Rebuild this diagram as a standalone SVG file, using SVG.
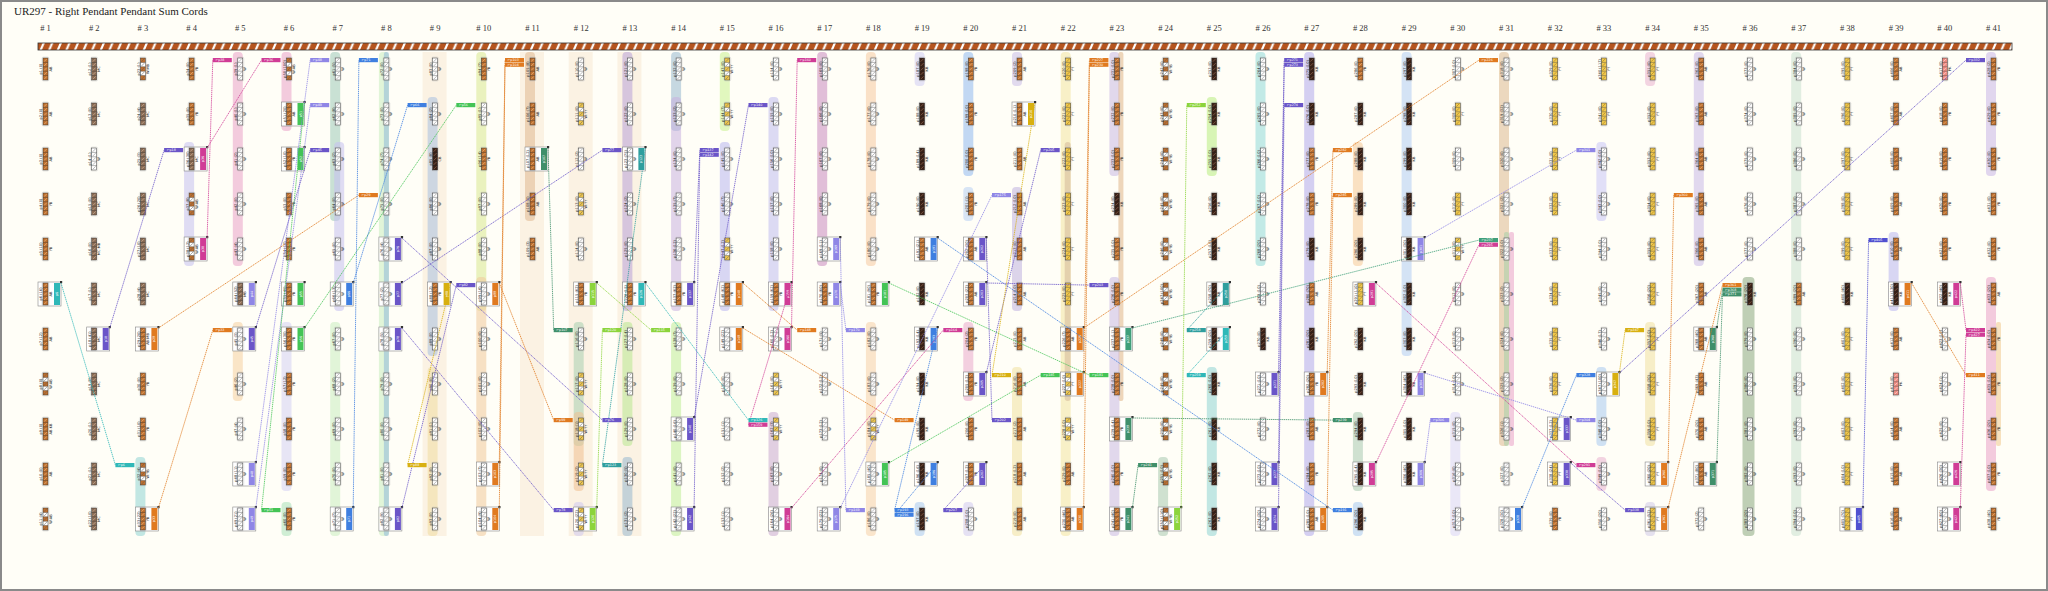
<svg xmlns="http://www.w3.org/2000/svg" width="2048" height="591" viewBox="0 0 2048 591">
<defs>
<style>
text{font-family:"DejaVu Sans","Liberation Sans",sans-serif;font-size:3.6px;text-anchor:middle;fill:#222}
.n text{transform:translate(0,11px) rotate(-90deg)}
.w{fill:#fff;font-size:3.3px}
.h{font-family:"Liberation Serif",serif;font-size:8.5px;fill:#333}
.ti{font-family:"Liberation Serif",serif;font-size:11px;text-anchor:start;fill:#222}
.t{font-size:3.3px;fill:#fff;text-anchor:start}
.c path{fill:none;stroke-width:.8;stroke-dasharray:1.4 .7}
.bd rect{opacity:.55}
.pb rect{fill:#f6e2c6;opacity:.4}
.r1{transform:translate(0,58px)}.r2{transform:translate(0,103px)}.r3{transform:translate(0,148px)}.r4{transform:translate(0,193px)}.r5{transform:translate(0,238px)}.r6{transform:translate(0,283px)}.r7{transform:translate(0,328px)}.r8{transform:translate(0,373px)}.r9{transform:translate(0,418px)}.r10{transform:translate(0,463px)}.r11{transform:translate(0,508px)}
</style>
<pattern id="rp" width="8.6" height="7" patternUnits="userSpaceOnUse" x="38" y="43"><rect width="8.6" height="7" fill="#b5541e"/><path d="M1.5 7 4.5 0H6.8L3.8 7Z" fill="#fff"/></pattern>
<path id="sp" fill="none" d="M0 4.4h5M0 8.8h5M0 13.2h5M0 17.6h5"/>
<path id="sl" fill="none" d="M1 3.7 4 .7M1 8.1 4 5.1M1 12.5 4 9.5M1 16.9 4 13.9M1 21.3 4 18.3"/>
<path id="al" d="M0 0h5v4.4H0zM0 8.8h5v4.4H0zM0 17.6h5V22H0z"/>
<rect id="fr" x="-1" y="-1" width="7" height="24" rx="1.5" fill="none" stroke="#c8c8c8" stroke-width=".4"/>
<rect id="ol" width="5" height="22" fill="none" stroke="#333" stroke-width=".5"/>
<g id="B"><use href="#fr"/><rect width="5" height="22" fill="#c0702e"/><use href="#sl" stroke="#f2cfa0" stroke-width=".5"/><use href="#sp" stroke="#333" stroke-width=".4"/><use href="#ol"/></g>
<g id="K"><use href="#fr"/><rect width="5" height="22" fill="#3b2116"/><use href="#sl" stroke="#a4826c" stroke-width=".5"/><use href="#sp" stroke="#222" stroke-width=".4"/><use href="#ol"/></g>
<g id="M"><use href="#fr"/><rect width="5" height="22" fill="#8c6c54"/><use href="#sl" stroke="#e0ccb8" stroke-width=".5"/><use href="#sp" stroke="#333" stroke-width=".4"/><use href="#ol"/></g>
<g id="W"><use href="#fr"/><rect width="5" height="22" fill="#fff"/><use href="#sl" stroke="#777" stroke-width=".5"/><use href="#sp" stroke="#444" stroke-width=".4"/><use href="#ol"/></g>
<g id="Y"><use href="#fr"/><rect width="5" height="22" fill="#f2c94e"/><use href="#sl" stroke="#8a6a12" stroke-width=".5"/><use href="#sp" stroke="#444" stroke-width=".4"/><use href="#ol"/></g>
<g id="P"><use href="#fr"/><rect width="5" height="22" fill="#f08a80"/><use href="#sl" stroke="#fff" stroke-width=".5"/><use href="#sp" stroke="#444" stroke-width=".4"/><use href="#ol"/></g>
<g id="X"><use href="#fr"/><rect width="5" height="22" fill="#fff"/><use href="#al" fill="#c0702e"/><use href="#sl" stroke="#555" stroke-width=".5"/><use href="#sp" stroke="#333" stroke-width=".4"/><use href="#ol"/></g>
<g id="Z"><use href="#fr"/><rect width="5" height="22" fill="#fff"/><use href="#al" fill="#f2c94e"/><use href="#sl" stroke="#555" stroke-width=".5"/><use href="#sp" stroke="#333" stroke-width=".4"/><use href="#ol"/></g>
<g id="S"><rect x="-5" y="-1" width="23" height="24" fill="#fff" stroke="#888" stroke-width=".6"/><rect x="17" y="-2" width="2.2" height="2.2" fill="#333"/></g>
</defs>
<rect x="1" y="1" width="2046" height="589" fill="#fffef7" stroke="#8a8a8a" stroke-width="2"/>
<text class="ti" x="14" y="15">UR297 - Right Pendant Pendant Sum Cords</text>
<g id="headers" class="h">
<text class="h" x="45.5" y="31"># 1</text><text class="h" x="94.2" y="31"># 2</text><text class="h" x="142.9" y="31"># 3</text><text class="h" x="191.6" y="31"># 4</text><text class="h" x="240.3" y="31"># 5</text><text class="h" x="289" y="31"># 6</text><text class="h" x="337.7" y="31"># 7</text><text class="h" x="386.4" y="31"># 8</text><text class="h" x="435.1" y="31"># 9</text><text class="h" x="483.8" y="31"># 10</text><text class="h" x="532.5" y="31"># 11</text><text class="h" x="581.2" y="31"># 12</text><text class="h" x="629.9" y="31"># 13</text><text class="h" x="678.6" y="31"># 14</text><text class="h" x="727.3" y="31"># 15</text><text class="h" x="776" y="31"># 16</text><text class="h" x="824.7" y="31"># 17</text><text class="h" x="873.4" y="31"># 18</text><text class="h" x="922.1" y="31"># 19</text><text class="h" x="970.8" y="31"># 20</text><text class="h" x="1019.5" y="31"># 21</text><text class="h" x="1068.2" y="31"># 22</text><text class="h" x="1116.9" y="31"># 23</text><text class="h" x="1165.6" y="31"># 24</text><text class="h" x="1214.3" y="31"># 25</text><text class="h" x="1263" y="31"># 26</text><text class="h" x="1311.7" y="31"># 27</text><text class="h" x="1360.4" y="31"># 28</text><text class="h" x="1409.1" y="31"># 29</text><text class="h" x="1457.8" y="31"># 30</text><text class="h" x="1506.5" y="31"># 31</text><text class="h" x="1555.2" y="31"># 32</text><text class="h" x="1603.9" y="31"># 33</text><text class="h" x="1652.6" y="31"># 34</text><text class="h" x="1701.3" y="31"># 35</text><text class="h" x="1750" y="31"># 36</text><text class="h" x="1798.7" y="31"># 37</text><text class="h" x="1847.4" y="31"># 38</text><text class="h" x="1896.1" y="31"># 39</text><text class="h" x="1944.8" y="31"># 40</text><text class="h" x="1993.5" y="31"># 41</text>
</g>
<g id="primary"><rect x="38" y="43" width="1974" height="7" fill="url(#rp)" stroke="#333" stroke-width=".8"/></g>
<g class="pb"><rect x="422.6" y="52" width="24" height="484"/><rect x="520" y="52" width="24" height="484"/><rect x="568.7" y="52" width="24" height="484"/><rect x="617.4" y="52" width="24" height="484"/></g>
<g class="bd">
<rect x="135.4" y="457" width="10" height="79" rx="4" fill="#8fd4d4"/>
<rect x="184.1" y="142" width="10" height="124" rx="4" fill="#c4bff0"/>
<rect x="232.8" y="52" width="10" height="214" rx="4" fill="#eaa0c8"/>
<rect x="232.8" y="322" width="10" height="79" rx="4" fill="#f5cfa0"/>
<rect x="281.5" y="52" width="10" height="79" rx="4" fill="#eaa0c8"/>
<rect x="281.5" y="322" width="10" height="169" rx="4" fill="#d4d0f4"/>
<rect x="281.5" y="502" width="10" height="34" rx="4" fill="#a8e0b8"/>
<rect x="330.2" y="52" width="10" height="169" rx="4" fill="#9cc8b8"/>
<rect x="334.2" y="142" width="10" height="169" rx="4" fill="#c4c0f0"/>
<rect x="330.2" y="322" width="10" height="214" rx="4" fill="#c8ecc0"/>
<rect x="378.9" y="52" width="10" height="484" rx="4" fill="#c8ecc0"/>
<rect x="383.9" y="52" width="5" height="484" rx="2" fill="#8fb8d8"/>
<rect x="427.6" y="97" width="10" height="259" rx="4" fill="#a8c0e0"/>
<rect x="427.6" y="367" width="10" height="169" rx="4" fill="#f0dca0"/>
<rect x="476.3" y="52" width="10" height="259" rx="4" fill="#d8e890"/>
<rect x="476.3" y="277" width="10" height="259" rx="4" fill="#f0c89a"/>
<rect x="525" y="52" width="10" height="169" rx="4" fill="#e0b890"/>
<rect x="573.7" y="322" width="10" height="124" rx="4" fill="#a8d0b0"/>
<rect x="573.7" y="412" width="10" height="79" rx="4" fill="#f0c090"/>
<rect x="573.7" y="502" width="10" height="34" rx="4" fill="#d0c8f0"/>
<rect x="622.4" y="52" width="10" height="259" rx="4" fill="#b8a0d8"/>
<rect x="622.4" y="322" width="10" height="124" rx="4" fill="#b8e890"/>
<rect x="622.4" y="457" width="10" height="79" rx="4" fill="#98b8d0"/>
<rect x="671.1" y="52" width="10" height="79" rx="4" fill="#98b8d0"/>
<rect x="671.1" y="97" width="10" height="214" rx="4" fill="#c8b0e0"/>
<rect x="671.1" y="322" width="10" height="214" rx="4" fill="#c0ec98"/>
<rect x="719.8" y="52" width="10" height="79" rx="4" fill="#c8f090"/>
<rect x="719.8" y="142" width="10" height="169" rx="4" fill="#b8b4f0"/>
<rect x="768.5" y="97" width="10" height="214" rx="4" fill="#c0bcf0"/>
<rect x="768.5" y="412" width="10" height="124" rx="4" fill="#c8a8d0"/>
<rect x="817.2" y="52" width="10" height="214" rx="4" fill="#c888c0"/>
<rect x="865.9" y="52" width="10" height="214" rx="4" fill="#f5c8a0"/>
<rect x="865.9" y="322" width="10" height="214" rx="4" fill="#f5d0a8"/>
<rect x="914.6" y="52" width="10" height="34" rx="4" fill="#d0ccf4"/>
<rect x="914.6" y="502" width="10" height="34" rx="4" fill="#a8c8f0"/>
<rect x="963.3" y="52" width="10" height="124" rx="4" fill="#90b8f0"/>
<rect x="963.3" y="187" width="10" height="34" rx="4" fill="#b8d0f4"/>
<rect x="963.3" y="322" width="10" height="79" rx="4" fill="#eaa8cc"/>
<rect x="963.3" y="502" width="10" height="34" rx="4" fill="#d0c8f0"/>
<rect x="1012" y="52" width="10" height="34" rx="4" fill="#c8bce8"/>
<rect x="1012" y="187" width="10" height="124" rx="4" fill="#c0b0e0"/>
<rect x="1012" y="367" width="10" height="169" rx="4" fill="#f0e0a0"/>
<rect x="1060.7" y="52" width="10" height="484" rx="4" fill="#f2e4a0"/>
<rect x="1064.7" y="142" width="6" height="259" rx="3" fill="#d4b898"/>
<rect x="1109.4" y="52" width="10" height="124" rx="4" fill="#c8b8e4"/>
<rect x="1118.4" y="52" width="5" height="349" rx="2" fill="#e0b488"/>
<rect x="1109.4" y="277" width="10" height="259" rx="4" fill="#c8b8e4"/>
<rect x="1158.1" y="457" width="10" height="79" rx="4" fill="#a8c8b0"/>
<rect x="1206.8" y="97" width="10" height="79" rx="4" fill="#b8ec80"/>
<rect x="1206.8" y="367" width="10" height="169" rx="4" fill="#90d4d4"/>
<rect x="1255.5" y="52" width="10" height="214" rx="4" fill="#90d8d8"/>
<rect x="1304.2" y="52" width="10" height="484" rx="4" fill="#b0a8ec"/>
<rect x="1352.9" y="142" width="10" height="124" rx="4" fill="#f5c898"/>
<rect x="1352.9" y="412" width="10" height="79" rx="4" fill="#a8c8b0"/>
<rect x="1352.9" y="502" width="10" height="34" rx="4" fill="#a8c8f0"/>
<rect x="1401.6" y="52" width="10" height="304" rx="4" fill="#b0ccf4"/>
<rect x="1450.3" y="412" width="10" height="124" rx="4" fill="#d8d4f8"/>
<rect x="1499" y="52" width="10" height="394" rx="4" fill="#dcb890"/>
<rect x="1504" y="232" width="5" height="214" rx="2" fill="#a8d0a8"/>
<rect x="1509" y="232" width="5" height="214" rx="2" fill="#eaa0c8"/>
<rect x="1596.4" y="142" width="10" height="79" rx="4" fill="#c8c4f8"/>
<rect x="1596.4" y="367" width="10" height="79" rx="4" fill="#a8c8f0"/>
<rect x="1596.4" y="457" width="10" height="34" rx="4" fill="#eab0d0"/>
<rect x="1645.1" y="52" width="10" height="34" rx="4" fill="#eab0d0"/>
<rect x="1645.1" y="322" width="10" height="124" rx="4" fill="#f0e0a0"/>
<rect x="1645.1" y="502" width="10" height="34" rx="4" fill="#d0c8e8"/>
<rect x="1693.8" y="52" width="10" height="214" rx="4" fill="#c8b8e8"/>
<rect x="1742.5" y="277" width="12" height="259" rx="4" fill="#8aa880"/>
<rect x="1791.2" y="52" width="10" height="484" rx="4" fill="#c8e0d0"/>
<rect x="1888.6" y="232" width="10" height="79" rx="4" fill="#b8b4f0"/>
<rect x="1986" y="52" width="10" height="124" rx="4" fill="#c8b4e8"/>
<rect x="1986" y="277" width="10" height="214" rx="4" fill="#eaa0c8"/>
<rect x="1996" y="322" width="5" height="124" rx="2" fill="#f0c890"/>
</g>
<g id="k1" transform="translate(43)">
<g id="p1" class="n r1"><use href="#B"/><text y="-.6">p1 (0)<tspan x="0" dy="9.1">AB</tspan></text></g>
<g id="p2" class="n r2"><use href="#B"/><text y="-.6">p2 (0)<tspan x="0" dy="9.1">AB</tspan></text></g>
<g id="p3" class="n r3"><use href="#B"/><text y="-.6">p3 (0)<tspan x="0" dy="9.1">AB</tspan></text></g>
<g id="p4" class="n r4"><use href="#B"/><text y="-.6">p4 (0)<tspan x="0" dy="9.1">YB</tspan></text></g>
<g id="p5" class="n r5"><use href="#B"/><text y="-.6">p5 (10)<tspan x="0" dy="9.1">YB</tspan></text></g>
<g id="p6" class="n r6"><use href="#S"/><use href="#B"/><rect x="11" width="6" height="22" fill="#2fb8b8"/><text y="-.6">p6 (16)<tspan x="0" dy="9.1">AB</tspan><tspan x="0" dy="6.6" class="w">p6</tspan></text></g>
<g id="p7" class="n r7"><use href="#B"/><text y="-.6">p7 (12)<tspan x="0" dy="9.1">AB</tspan></text></g>
<g id="p8" class="n r8"><use href="#X"/><text y="-.6">p8 (0)<tspan x="0" dy="9.1">W:AB</tspan></text></g>
<g id="p9" class="n r9"><use href="#B"/><text y="-.6">p9 (0)<tspan x="0" dy="9.1">AB:KB</tspan></text></g>
<g id="p10" class="n r10"><use href="#B"/><text y="-.6">p10 (0)<tspan x="0" dy="9.1">AB</tspan></text></g>
<g id="p11" class="n r11"><use href="#X"/><text y="-.6">p11 (4)<tspan x="0" dy="9.1">W:AB</tspan></text></g>
</g>
<g id="k2" transform="translate(91.7)">
<g id="p12" class="n r1"><use href="#M"/><text y="-.6">p12 (1)<tspan x="0" dy="9.1">MC</tspan></text></g>
<g id="p13" class="n r2"><use href="#M"/><text y="-.6">p13 (0)<tspan x="0" dy="9.1">MC</tspan></text></g>
<g id="p14" class="n r3"><use href="#W"/><text y="-.6">p14 (1)<tspan x="0" dy="9.1">W</tspan></text></g>
<g id="p15" class="n r4"><use href="#M"/><text y="-.6">p15 (0)<tspan x="0" dy="9.1">MC</tspan></text></g>
<g id="p16" class="n r5"><use href="#M"/><text y="-.6">p16 (0)<tspan x="0" dy="9.1">MC:MB</tspan></text></g>
<g id="p17" class="n r6"><use href="#M"/><text y="-.6">p17 (1)<tspan x="0" dy="9.1">MC</tspan></text></g>
<g id="p18" class="n r7"><use href="#S"/><use href="#M"/><rect x="11" width="6" height="22" fill="#6a55c8"/><text y="-.6">p18 (41)<tspan x="0" dy="9.1">MC</tspan><tspan x="0" dy="6.6" class="w">p18</tspan></text></g>
<g id="p19" class="n r8"><use href="#M"/><text y="-.6">p19 (0)<tspan x="0" dy="9.1">MC</tspan></text></g>
<g id="p20" class="n r9"><use href="#M"/><text y="-.6">p20 (1)<tspan x="0" dy="9.1">MC</tspan></text></g>
<g id="p21" class="n r10"><use href="#M"/><text y="-.6">p21 (1)<tspan x="0" dy="9.1">MC</tspan></text></g>
<g id="p22" class="n r11"><use href="#M"/><text y="-.6">p22 (10)<tspan x="0" dy="9.1">MC</tspan></text></g>
</g>
<g id="k3" transform="translate(140.4)">
<g id="p23" class="n r1"><use href="#X"/><text y="-.6">p23 (1)<tspan x="0" dy="9.1">W:MB</tspan></text></g>
<g id="p24" class="n r2"><use href="#M"/><text y="-.6">p24 (4)<tspan x="0" dy="9.1">MC</tspan></text></g>
<g id="p25" class="n r3"><use href="#M"/><text y="-.6">p25 (3)<tspan x="0" dy="9.1">MC</tspan></text></g>
<g id="p26" class="n r4"><use href="#M"/><text y="-.6">p26 (20)<tspan x="0" dy="9.1">MC</tspan></text></g>
<g id="p27" class="n r5"><use href="#M"/><text y="-.6">p27 (10)<tspan x="0" dy="9.1">MC</tspan></text></g>
<g id="p28" class="n r6"><use href="#M"/><text y="-.6">p28 (4)<tspan x="0" dy="9.1">MC</tspan></text></g>
<g id="p29" class="n r7"><use href="#S"/><use href="#B"/><rect x="11" width="6" height="22" fill="#e07a20"/><text y="-.6">p29 (20)<tspan x="0" dy="9.1">AB:MB</tspan><tspan x="0" dy="6.6" class="w">p29</tspan></text></g>
<g id="p30" class="n r8"><use href="#B"/><text y="-.6">p30 (0)<tspan x="0" dy="9.1">YB</tspan></text></g>
<g id="p31" class="n r9"><use href="#B"/><text y="-.6">p31 (10)<tspan x="0" dy="9.1">YB</tspan></text></g>
<g id="p32" class="n r10"><use href="#X"/><text y="-.6">p32 (4)<tspan x="0" dy="9.1">W:YB</tspan></text></g>
<g id="p33" class="n r11"><use href="#S"/><use href="#B"/><rect x="11" width="6" height="22" fill="#e07a20"/><text y="-.6">p33 (22)<tspan x="0" dy="9.1">YB</tspan><tspan x="0" dy="6.6" class="w">p33</tspan></text></g>
</g>
<g id="k4" transform="translate(189.1)">
<g id="p34" class="n r1"><use href="#B"/><text y="-.6">p34 (0)<tspan x="0" dy="9.1">YB</tspan></text></g>
<g id="p35" class="n r2"><use href="#B"/><text y="-.6">p35 (0)<tspan x="0" dy="9.1">YB</tspan></text></g>
<g id="p36" class="n r3"><use href="#S"/><use href="#M"/><rect x="11" width="6" height="22" fill="#d03c96"/><text y="-.6">p36 (30)<tspan x="0" dy="9.1">MC</tspan><tspan x="0" dy="6.6" class="w">p36</tspan></text></g>
<g id="p37" class="n r4"><use href="#X"/><text y="-.6">p37 (8)<tspan x="0" dy="9.1">W:AB</tspan></text></g>
<g id="p38" class="n r5"><use href="#S"/><use href="#X"/><rect x="11" width="6" height="22" fill="#d03c96"/><text y="-.6">p38 (12)<tspan x="0" dy="9.1">W:AB</tspan><tspan x="0" dy="6.6" class="w">p38</tspan></text></g>
</g>
<g id="k5" transform="translate(237.8)">
<g id="p39" class="n r1"><use href="#W"/><text y="-.6">p39 (1)<tspan x="0" dy="9.1">W</tspan></text></g>
<g id="p40" class="n r2"><use href="#W"/><text y="-.6">p40 (1)<tspan x="0" dy="9.1">W</tspan></text></g>
<g id="p41" class="n r3"><use href="#W"/><text y="-.6">p41 (2)<tspan x="0" dy="9.1">W</tspan></text></g>
<g id="p42" class="n r4"><use href="#W"/><text y="-.6">p42 (0)<tspan x="0" dy="9.1">W</tspan></text></g>
<g id="p43" class="n r5"><use href="#W"/><text y="-.6">p43 (4)<tspan x="0" dy="9.1">W</tspan></text></g>
<g id="p44" class="n r6"><use href="#S"/><use href="#M"/><rect x="11" width="6" height="22" fill="#8f86e6"/><text y="-.6">p44 (52)<tspan x="0" dy="9.1">MB</tspan><tspan x="0" dy="6.6" class="w">p44</tspan></text></g>
<g id="p45" class="n r7"><use href="#S"/><use href="#W"/><rect x="11" width="6" height="22" fill="#6a55c8"/><text y="-.6">p45 (3)<tspan x="0" dy="9.1">W</tspan><tspan x="0" dy="6.6" class="w">p45</tspan></text></g>
<g id="p46" class="n r8"><use href="#W"/><text y="-.6">p46 (2)<tspan x="0" dy="9.1">W</tspan></text></g>
<g id="p47" class="n r9"><use href="#W"/><text y="-.6">p47 (4)<tspan x="0" dy="9.1">W</tspan></text></g>
<g id="p48" class="n r10"><use href="#S"/><use href="#W"/><rect x="11" width="6" height="22" fill="#8f86e6"/><text y="-.6">p48 (11)<tspan x="0" dy="9.1">W</tspan><tspan x="0" dy="6.6" class="w">p48</tspan></text></g>
<g id="p49" class="n r11"><use href="#S"/><use href="#W"/><rect x="11" width="6" height="22" fill="#8f86e6"/><text y="-.6">p49 (21)<tspan x="0" dy="9.1">W</tspan><tspan x="0" dy="6.6" class="w">p49</tspan></text></g>
</g>
<g id="k6" transform="translate(286.5)">
<g id="p50" class="n r1"><use href="#X"/><text y="-.6">p50 (100)<tspan x="0" dy="9.1">W:AB</tspan></text></g>
<g id="p51" class="n r2"><use href="#S"/><use href="#B"/><rect x="11" width="6" height="22" fill="#44c456"/><text y="-.6">p51 (20)<tspan x="0" dy="9.1">AB</tspan><tspan x="0" dy="6.6" class="w">p51</tspan></text></g>
<g id="p52" class="n r3"><use href="#S"/><use href="#B"/><rect x="11" width="6" height="22" fill="#44c456"/><text y="-.6">p52 (10)<tspan x="0" dy="9.1">YB</tspan><tspan x="0" dy="6.6" class="w">p52</tspan></text></g>
<g id="p53" class="n r4"><use href="#B"/><text y="-.6">p53 (0)<tspan x="0" dy="9.1">YB</tspan></text></g>
<g id="p54" class="n r5"><use href="#B"/><text y="-.6">p54 (10)<tspan x="0" dy="9.1">YB</tspan></text></g>
<g id="p55" class="n r6"><use href="#S"/><use href="#B"/><rect x="11" width="6" height="22" fill="#44c456"/><text y="-.6">p55 (45)<tspan x="0" dy="9.1">YB</tspan><tspan x="0" dy="6.6" class="w">p55</tspan></text></g>
<g id="p56" class="n r7"><use href="#S"/><use href="#B"/><rect x="11" width="6" height="22" fill="#44c456"/><text y="-.6">p56 (30)<tspan x="0" dy="9.1">YB</tspan><tspan x="0" dy="6.6" class="w">p56</tspan></text></g>
<g id="p57" class="n r8"><use href="#B"/><text y="-.6">p57 (12)<tspan x="0" dy="9.1">YB</tspan></text></g>
<g id="p58" class="n r9"><use href="#B"/><text y="-.6">p58 (0)<tspan x="0" dy="9.1">YB</tspan></text></g>
<g id="p59" class="n r10"><use href="#B"/><text y="-.6">p59 (0)<tspan x="0" dy="9.1">YB</tspan></text></g>
<g id="p60" class="n r11"><use href="#B"/><text y="-.6">p60 (0)<tspan x="0" dy="9.1">YB</tspan></text></g>
</g>
<g id="k7" transform="translate(335.2)">
<g id="p61" class="n r1"><use href="#W"/><text y="-.6">p61 (5)<tspan x="0" dy="9.1">W</tspan></text></g>
<g id="p62" class="n r2"><use href="#W"/><text y="-.6">p62 (8)<tspan x="0" dy="9.1">W</tspan></text></g>
<g id="p63" class="n r3"><use href="#W"/><text y="-.6">p63 (2)<tspan x="0" dy="9.1">W</tspan></text></g>
<g id="p64" class="n r4"><use href="#W"/><text y="-.6">p64 (0)<tspan x="0" dy="9.1">W</tspan></text></g>
<g id="p65" class="n r5"><use href="#W"/><text y="-.6">p65 (0)<tspan x="0" dy="9.1">W</tspan></text></g>
<g id="p66" class="n r6"><use href="#S"/><use href="#W"/><rect x="11" width="6" height="22" fill="#3f7fe0"/><text y="-.6">p66 (13)<tspan x="0" dy="9.1">W</tspan><tspan x="0" dy="6.6" class="w">p66</tspan></text></g>
<g id="p67" class="n r7"><use href="#W"/><text y="-.6">p67 (0)<tspan x="0" dy="9.1">W</tspan></text></g>
<g id="p68" class="n r8"><use href="#W"/><text y="-.6">p68 (2)<tspan x="0" dy="9.1">W</tspan></text></g>
<g id="p69" class="n r9"><use href="#W"/><text y="-.6">p69 (0)<tspan x="0" dy="9.1">W</tspan></text></g>
<g id="p70" class="n r10"><use href="#W"/><text y="-.6">p70 (0)<tspan x="0" dy="9.1">W</tspan></text></g>
<g id="p71" class="n r11"><use href="#S"/><use href="#W"/><rect x="11" width="6" height="22" fill="#3f7fe0"/><text y="-.6">p71 (7)<tspan x="0" dy="9.1">W</tspan><tspan x="0" dy="6.6" class="w">p71</tspan></text></g>
</g>
<g id="k8" transform="translate(383.9)">
<g id="p72" class="n r1"><use href="#W"/><text y="-.6">p72 (0)<tspan x="0" dy="9.1">W</tspan></text></g>
<g id="p73" class="n r2"><use href="#W"/><text y="-.6">p73 (0)<tspan x="0" dy="9.1">W</tspan></text></g>
<g id="p74" class="n r3"><use href="#W"/><text y="-.6">p74 (7)<tspan x="0" dy="9.1">W</tspan></text></g>
<g id="p75" class="n r4"><use href="#W"/><text y="-.6">p75 (0)<tspan x="0" dy="9.1">W</tspan></text></g>
<g id="p76" class="n r5"><use href="#S"/><use href="#W"/><rect x="11" width="6" height="22" fill="#6a55c8"/><text y="-.6">p76 (4)<tspan x="0" dy="9.1">W</tspan><tspan x="0" dy="6.6" class="w">p76</tspan></text></g>
<g id="p77" class="n r6"><use href="#S"/><use href="#W"/><rect x="11" width="6" height="22" fill="#6a55c8"/><text y="-.6">p77 (2)<tspan x="0" dy="9.1">W</tspan><tspan x="0" dy="6.6" class="w">p77</tspan></text></g>
<g id="p78" class="n r7"><use href="#S"/><use href="#W"/><rect x="11" width="6" height="22" fill="#6a55c8"/><text y="-.6">p78 (5)<tspan x="0" dy="9.1">W</tspan><tspan x="0" dy="6.6" class="w">p78</tspan></text></g>
<g id="p79" class="n r8"><use href="#W"/><text y="-.6">p79 (0)<tspan x="0" dy="9.1">W</tspan></text></g>
<g id="p80" class="n r9"><use href="#W"/><text y="-.6">p80 (0)<tspan x="0" dy="9.1">W</tspan></text></g>
<g id="p81" class="n r10"><use href="#W"/><text y="-.6">p81 (0)<tspan x="0" dy="9.1">W</tspan></text></g>
<g id="p82" class="n r11"><use href="#S"/><use href="#W"/><rect x="11" width="6" height="22" fill="#6a55c8"/><text y="-.6">p82 (9)<tspan x="0" dy="9.1">W</tspan><tspan x="0" dy="6.6" class="w">p82</tspan></text></g>
</g>
<g id="k9" transform="translate(432.6)">
<g id="p83" class="n r1"><use href="#W"/><text y="-.6">p83 (0)<tspan x="0" dy="9.1">W</tspan></text></g>
<g id="p84" class="n r2"><use href="#W"/><text y="-.6">p84 (2)<tspan x="0" dy="9.1">W</tspan></text></g>
<g id="p85" class="n r3"><use href="#K"/><text y="-.6">p85 (8)<tspan x="0" dy="9.1">CB</tspan></text></g>
<g id="p86" class="n r4"><use href="#W"/><text y="-.6">p86 (0)<tspan x="0" dy="9.1">W</tspan></text></g>
<g id="p87" class="n r5"><use href="#W"/><text y="-.6">p87 (0)<tspan x="0" dy="9.1">W</tspan></text></g>
<g id="p88" class="n r6"><use href="#S"/><use href="#B"/><rect x="11" width="6" height="22" fill="#d8b010"/><text y="-.6">p88 (12)<tspan x="0" dy="9.1">YB</tspan><tspan x="0" dy="6.6" class="w">p88</tspan></text></g>
<g id="p89" class="n r7"><use href="#W"/><text y="-.6">p89 (0)<tspan x="0" dy="9.1">W</tspan></text></g>
<g id="p90" class="n r8"><use href="#W"/><text y="-.6">p90 (0)<tspan x="0" dy="9.1">W</tspan></text></g>
<g id="p91" class="n r9"><use href="#W"/><text y="-.6">p91 (1)<tspan x="0" dy="9.1">W</tspan></text></g>
<g id="p92" class="n r10"><use href="#W"/><text y="-.6">p92 (0)<tspan x="0" dy="9.1">W</tspan></text></g>
<g id="p93" class="n r11"><use href="#W"/><text y="-.6">p93 (0)<tspan x="0" dy="9.1">W</tspan></text></g>
</g>
<g id="k10" transform="translate(481.3)">
<g id="p94" class="n r1"><use href="#B"/><text y="-.6">p94 (7)<tspan x="0" dy="9.1">YB</tspan></text></g>
<g id="p95" class="n r2"><use href="#W"/><text y="-.6">p95 (1)<tspan x="0" dy="9.1">W</tspan></text></g>
<g id="p96" class="n r3"><use href="#B"/><text y="-.6">p96 (14)<tspan x="0" dy="9.1">YB</tspan></text></g>
<g id="p97" class="n r4"><use href="#W"/><text y="-.6">p97 (0)<tspan x="0" dy="9.1">W</tspan></text></g>
<g id="p98" class="n r5"><use href="#W"/><text y="-.6">p98 (0)<tspan x="0" dy="9.1">W</tspan></text></g>
<g id="p99" class="n r6"><use href="#S"/><use href="#W"/><rect x="11" width="6" height="22" fill="#e07a20"/><text y="-.6">p99 (16)<tspan x="0" dy="9.1">W</tspan><tspan x="0" dy="6.6" class="w">p99</tspan></text></g>
<g id="p100" class="n r7"><use href="#W"/><text y="-.6">p100 (0)<tspan x="0" dy="9.1">W</tspan></text></g>
<g id="p101" class="n r8"><use href="#W"/><text y="-.6">p101 (0)<tspan x="0" dy="9.1">W</tspan></text></g>
<g id="p102" class="n r9"><use href="#W"/><text y="-.6">p102 (0)<tspan x="0" dy="9.1">W</tspan></text></g>
<g id="p103" class="n r10"><use href="#S"/><use href="#W"/><rect x="11" width="6" height="22" fill="#e07a20"/><text y="-.6">p103 (7)<tspan x="0" dy="9.1">W</tspan><tspan x="0" dy="6.6" class="w">p103</tspan></text></g>
<g id="p104" class="n r11"><use href="#S"/><use href="#W"/><rect x="11" width="6" height="22" fill="#e07a20"/><text y="-.6">p104 (9)<tspan x="0" dy="9.1">W</tspan><tspan x="0" dy="6.6" class="w">p104</tspan></text></g>
</g>
<g id="k11" transform="translate(530)">
<g id="p105" class="n r1"><use href="#B"/><text y="-.6">p105 (8)<tspan x="0" dy="9.1">AB</tspan></text></g>
<g id="p106" class="n r2"><use href="#B"/><text y="-.6">p106 (7)<tspan x="0" dy="9.1">AB</tspan></text></g>
<g id="p107" class="n r3"><use href="#S"/><use href="#B"/><rect x="11" width="6" height="22" fill="#3f8f6a"/><text y="-.6">p107 (12)<tspan x="0" dy="9.1">AB</tspan><tspan x="0" dy="6.6" class="w">p107</tspan></text></g>
<g id="p108" class="n r4"><use href="#B"/><text y="-.6">p108 (0)<tspan x="0" dy="9.1">AB</tspan></text></g>
<g id="p109" class="n r5"><use href="#B"/><text y="-.6">p109 (3)<tspan x="0" dy="9.1">AB</tspan></text></g>
</g>
<g id="k12" transform="translate(578.7)">
<g id="p110" class="n r1"><use href="#W"/><text y="-.6">p110 (0)<tspan x="0" dy="9.1">W</tspan></text></g>
<g id="p111" class="n r2"><use href="#Z"/><text y="-.6">p111 (0)<tspan x="0" dy="9.1">W:YY</tspan></text></g>
<g id="p112" class="n r3"><use href="#W"/><text y="-.6">p112 (2)<tspan x="0" dy="9.1">W</tspan></text></g>
<g id="p113" class="n r4"><use href="#Z"/><text y="-.6">p113 (0)<tspan x="0" dy="9.1">W:YY</tspan></text></g>
<g id="p114" class="n r5"><use href="#W"/><text y="-.6">p114 (0)<tspan x="0" dy="9.1">W</tspan></text></g>
<g id="p115" class="n r6"><use href="#S"/><use href="#B"/><rect x="11" width="6" height="22" fill="#8cd43c"/><text y="-.6">p115 (62)<tspan x="0" dy="9.1">YB</tspan><tspan x="0" dy="6.6" class="w">p115</tspan></text></g>
<g id="p116" class="n r7"><use href="#W"/><text y="-.6">p116 (0)<tspan x="0" dy="9.1">W</tspan></text></g>
<g id="p117" class="n r8"><use href="#Z"/><text y="-.6">p117 (0)<tspan x="0" dy="9.1">W:YY</tspan></text></g>
<g id="p118" class="n r9"><use href="#Z"/><text y="-.6">p118 (1)<tspan x="0" dy="9.1">W:YY</tspan></text></g>
<g id="p119" class="n r10"><use href="#Z"/><text y="-.6">p119 (2)<tspan x="0" dy="9.1">W:YY</tspan></text></g>
<g id="p120" class="n r11"><use href="#S"/><use href="#Z"/><rect x="11" width="6" height="22" fill="#8cd43c"/><text y="-.6">p120 (22)<tspan x="0" dy="9.1">W:YY</tspan><tspan x="0" dy="6.6" class="w">p120</tspan></text></g>
</g>
<g id="k13" transform="translate(627.4)">
<g id="p121" class="n r1"><use href="#W"/><text y="-.6">p121 (0)<tspan x="0" dy="9.1">W</tspan></text></g>
<g id="p122" class="n r2"><use href="#W"/><text y="-.6">p122 (0)<tspan x="0" dy="9.1">W</tspan></text></g>
<g id="p123" class="n r3"><use href="#S"/><use href="#W"/><rect x="11" width="6" height="22" fill="#2f9e9e"/><text y="-.6">p123 (75)<tspan x="0" dy="9.1">W</tspan><tspan x="0" dy="6.6" class="w">p123</tspan></text></g>
<g id="p124" class="n r4"><use href="#W"/><text y="-.6">p124 (2)<tspan x="0" dy="9.1">W</tspan></text></g>
<g id="p125" class="n r5"><use href="#W"/><text y="-.6">p125 (0)<tspan x="0" dy="9.1">W</tspan></text></g>
<g id="p126" class="n r6"><use href="#S"/><use href="#B"/><rect x="11" width="6" height="22" fill="#2fb8b8"/><text y="-.6">p126 (15)<tspan x="0" dy="9.1">YB</tspan><tspan x="0" dy="6.6" class="w">p126</tspan></text></g>
<g id="p127" class="n r7"><use href="#W"/><text y="-.6">p127 (14)<tspan x="0" dy="9.1">W</tspan></text></g>
<g id="p128" class="n r8"><use href="#W"/><text y="-.6">p128 (0)<tspan x="0" dy="9.1">W</tspan></text></g>
<g id="p129" class="n r9"><use href="#W"/><text y="-.6">p129 (0)<tspan x="0" dy="9.1">W</tspan></text></g>
<g id="p130" class="n r10"><use href="#W"/><text y="-.6">p130 (5)<tspan x="0" dy="9.1">W</tspan></text></g>
<g id="p131" class="n r11"><use href="#W"/><text y="-.6">p131 (2)<tspan x="0" dy="9.1">W</tspan></text></g>
</g>
<g id="k14" transform="translate(676.1)">
<g id="p132" class="n r1"><use href="#W"/><text y="-.6">p132 (0)<tspan x="0" dy="9.1">W</tspan></text></g>
<g id="p133" class="n r2"><use href="#W"/><text y="-.6">p133 (2)<tspan x="0" dy="9.1">W</tspan></text></g>
<g id="p134" class="n r3"><use href="#W"/><text y="-.6">p134 (0)<tspan x="0" dy="9.1">W</tspan></text></g>
<g id="p135" class="n r4"><use href="#W"/><text y="-.6">p135 (7)<tspan x="0" dy="9.1">W</tspan></text></g>
<g id="p136" class="n r5"><use href="#W"/><text y="-.6">p136 (12)<tspan x="0" dy="9.1">W</tspan></text></g>
<g id="p137" class="n r6"><use href="#S"/><use href="#B"/><rect x="11" width="6" height="22" fill="#6a55c8"/><text y="-.6">p137 (62)<tspan x="0" dy="9.1">YB</tspan><tspan x="0" dy="6.6" class="w">p137</tspan></text></g>
<g id="p138" class="n r7"><use href="#W"/><text y="-.6">p138 (7)<tspan x="0" dy="9.1">W</tspan></text></g>
<g id="p139" class="n r8"><use href="#W"/><text y="-.6">p139 (0)<tspan x="0" dy="9.1">W</tspan></text></g>
<g id="p140" class="n r9"><use href="#S"/><use href="#W"/><rect x="11" width="6" height="22" fill="#6a55c8"/><text y="-.6">p140 (16)<tspan x="0" dy="9.1">W</tspan><tspan x="0" dy="6.6" class="w">p140</tspan></text></g>
<g id="p141" class="n r10"><use href="#W"/><text y="-.6">p141 (0)<tspan x="0" dy="9.1">W</tspan></text></g>
<g id="p142" class="n r11"><use href="#S"/><use href="#W"/><rect x="11" width="6" height="22" fill="#6a55c8"/><text y="-.6">p142 (22)<tspan x="0" dy="9.1">W</tspan><tspan x="0" dy="6.6" class="w">p142</tspan></text></g>
</g>
<g id="k15" transform="translate(724.8)">
<g id="p143" class="n r1"><use href="#Z"/><text y="-.6">p143 (0)<tspan x="0" dy="9.1">W:YY</tspan></text></g>
<g id="p144" class="n r2"><use href="#Z"/><text y="-.6">p144 (7)<tspan x="0" dy="9.1">W:YY</tspan></text></g>
<g id="p145" class="n r3"><use href="#W"/><text y="-.6">p145 (0)<tspan x="0" dy="9.1">W</tspan></text></g>
<g id="p146" class="n r4"><use href="#W"/><text y="-.6">p146 (7)<tspan x="0" dy="9.1">W</tspan></text></g>
<g id="p147" class="n r5"><use href="#Z"/><text y="-.6">p147 (12)<tspan x="0" dy="9.1">W:YY</tspan></text></g>
<g id="p148" class="n r6"><use href="#S"/><use href="#B"/><rect x="11" width="6" height="22" fill="#e07a20"/><text y="-.6">p148 (62)<tspan x="0" dy="9.1">YB</tspan><tspan x="0" dy="6.6" class="w">p148</tspan></text></g>
<g id="p149" class="n r7"><use href="#S"/><use href="#W"/><rect x="11" width="6" height="22" fill="#e07a20"/><text y="-.6">p149 (22)<tspan x="0" dy="9.1">W</tspan><tspan x="0" dy="6.6" class="w">p149</tspan></text></g>
<g id="p150" class="n r8"><use href="#W"/><text y="-.6">p150 (0)<tspan x="0" dy="9.1">W</tspan></text></g>
<g id="p151" class="n r9"><use href="#W"/><text y="-.6">p151 (1)<tspan x="0" dy="9.1">W</tspan></text></g>
<g id="p152" class="n r10"><use href="#W"/><text y="-.6">p152 (2)<tspan x="0" dy="9.1">W</tspan></text></g>
<g id="p153" class="n r11"><use href="#W"/><text y="-.6">p153 (1)<tspan x="0" dy="9.1">W</tspan></text></g>
</g>
<g id="k16" transform="translate(773.5)">
<g id="p154" class="n r1"><use href="#W"/><text y="-.6">p154 (0)<tspan x="0" dy="9.1">W</tspan></text></g>
<g id="p155" class="n r2"><use href="#W"/><text y="-.6">p155 (0)<tspan x="0" dy="9.1">W</tspan></text></g>
<g id="p156" class="n r3"><use href="#W"/><text y="-.6">p156 (10)<tspan x="0" dy="9.1">W</tspan></text></g>
<g id="p157" class="n r4"><use href="#W"/><text y="-.6">p157 (0)<tspan x="0" dy="9.1">W</tspan></text></g>
<g id="p158" class="n r5"><use href="#W"/><text y="-.6">p158 (0)<tspan x="0" dy="9.1">W</tspan></text></g>
<g id="p159" class="n r6"><use href="#S"/><use href="#B"/><rect x="11" width="6" height="22" fill="#d03c96"/><text y="-.6">p159 (62)<tspan x="0" dy="9.1">YB</tspan><tspan x="0" dy="6.6" class="w">p159</tspan></text></g>
<g id="p160" class="n r7"><use href="#S"/><use href="#W"/><rect x="11" width="6" height="22" fill="#d03c96"/><text y="-.6">p160 (12)<tspan x="0" dy="9.1">W</tspan><tspan x="0" dy="6.6" class="w">p160</tspan></text></g>
<g id="p161" class="n r8"><use href="#Z"/><text y="-.6">p161 (0)<tspan x="0" dy="9.1">W:YY</tspan></text></g>
<g id="p162" class="n r9"><use href="#Z"/><text y="-.6">p162 (3)<tspan x="0" dy="9.1">W:YY</tspan></text></g>
<g id="p163" class="n r10"><use href="#W"/><text y="-.6">p163 (0)<tspan x="0" dy="9.1">W</tspan></text></g>
<g id="p164" class="n r11"><use href="#S"/><use href="#W"/><rect x="11" width="6" height="22" fill="#d03c96"/><text y="-.6">p164 (26)<tspan x="0" dy="9.1">W</tspan><tspan x="0" dy="6.6" class="w">p164</tspan></text></g>
</g>
<g id="k17" transform="translate(822.2)">
<g id="p165" class="n r1"><use href="#W"/><text y="-.6">p165 (0)<tspan x="0" dy="9.1">W</tspan></text></g>
<g id="p166" class="n r2"><use href="#W"/><text y="-.6">p166 (0)<tspan x="0" dy="9.1">W</tspan></text></g>
<g id="p167" class="n r3"><use href="#W"/><text y="-.6">p167 (0)<tspan x="0" dy="9.1">W</tspan></text></g>
<g id="p168" class="n r4"><use href="#W"/><text y="-.6">p168 (0)<tspan x="0" dy="9.1">W</tspan></text></g>
<g id="p169" class="n r5"><use href="#S"/><use href="#W"/><rect x="11" width="6" height="22" fill="#8f86e6"/><text y="-.6">p169 (11)<tspan x="0" dy="9.1">W</tspan><tspan x="0" dy="6.6" class="w">p169</tspan></text></g>
<g id="p170" class="n r6"><use href="#S"/><use href="#B"/><rect x="11" width="6" height="22" fill="#8f86e6"/><text y="-.6">p170 (60)<tspan x="0" dy="9.1">YB</tspan><tspan x="0" dy="6.6" class="w">p170</tspan></text></g>
<g id="p171" class="n r7"><use href="#W"/><text y="-.6">p171 (5)<tspan x="0" dy="9.1">W</tspan></text></g>
<g id="p172" class="n r8"><use href="#W"/><text y="-.6">p172 (12)<tspan x="0" dy="9.1">W</tspan></text></g>
<g id="p173" class="n r9"><use href="#W"/><text y="-.6">p173 (12)<tspan x="0" dy="9.1">W</tspan></text></g>
<g id="p174" class="n r10"><use href="#W"/><text y="-.6">p174 (0)<tspan x="0" dy="9.1">W</tspan></text></g>
<g id="p175" class="n r11"><use href="#S"/><use href="#W"/><rect x="11" width="6" height="22" fill="#8f86e6"/><text y="-.6">p175 (22)<tspan x="0" dy="9.1">W</tspan><tspan x="0" dy="6.6" class="w">p175</tspan></text></g>
</g>
<g id="k18" transform="translate(870.9)">
<g id="p176" class="n r1"><use href="#W"/><text y="-.6">p176 (0)<tspan x="0" dy="9.1">W</tspan></text></g>
<g id="p177" class="n r2"><use href="#W"/><text y="-.6">p177 (0)<tspan x="0" dy="9.1">W</tspan></text></g>
<g id="p178" class="n r3"><use href="#W"/><text y="-.6">p178 (0)<tspan x="0" dy="9.1">W</tspan></text></g>
<g id="p179" class="n r4"><use href="#W"/><text y="-.6">p179 (0)<tspan x="0" dy="9.1">W</tspan></text></g>
<g id="p180" class="n r5"><use href="#W"/><text y="-.6">p180 (0)<tspan x="0" dy="9.1">W</tspan></text></g>
<g id="p181" class="n r6"><use href="#S"/><use href="#B"/><rect x="11" width="6" height="22" fill="#44c456"/><text y="-.6">p181 (90)<tspan x="0" dy="9.1">YB</tspan><tspan x="0" dy="6.6" class="w">p181</tspan></text></g>
<g id="p182" class="n r7"><use href="#W"/><text y="-.6">p182 (0)<tspan x="0" dy="9.1">W</tspan></text></g>
<g id="p183" class="n r8"><use href="#W"/><text y="-.6">p183 (0)<tspan x="0" dy="9.1">W</tspan></text></g>
<g id="p184" class="n r9"><use href="#Z"/><text y="-.6">p184 (0)<tspan x="0" dy="9.1">W:YY</tspan></text></g>
<g id="p185" class="n r10"><use href="#S"/><use href="#W"/><rect x="11" width="6" height="22" fill="#44c456"/><text y="-.6">p185 (40)<tspan x="0" dy="9.1">W</tspan><tspan x="0" dy="6.6" class="w">p185</tspan></text></g>
<g id="p186" class="n r11"><use href="#W"/><text y="-.6">p186 (0)<tspan x="0" dy="9.1">W</tspan></text></g>
</g>
<g id="k19" transform="translate(919.6)">
<g id="p187" class="n r1"><use href="#K"/><text y="-.6">p187 (0)<tspan x="0" dy="9.1">KB</tspan></text></g>
<g id="p188" class="n r2"><use href="#K"/><text y="-.6">p188 (0)<tspan x="0" dy="9.1">KB</tspan></text></g>
<g id="p189" class="n r3"><use href="#K"/><text y="-.6">p189 (14)<tspan x="0" dy="9.1">KB</tspan></text></g>
<g id="p190" class="n r4"><use href="#K"/><text y="-.6">p190 (0)<tspan x="0" dy="9.1">KB</tspan></text></g>
<g id="p191" class="n r5"><use href="#S"/><use href="#B"/><rect x="11" width="6" height="22" fill="#3f7fe0"/><text y="-.6">p191 (21)<tspan x="0" dy="9.1">AB</tspan><tspan x="0" dy="6.6" class="w">p191</tspan></text></g>
<g id="p192" class="n r6"><use href="#K"/><text y="-.6">p192 (0)<tspan x="0" dy="9.1">KB</tspan></text></g>
<g id="p193" class="n r7"><use href="#S"/><use href="#K"/><rect x="11" width="6" height="22" fill="#3f7fe0"/><text y="-.6">p193 (14)<tspan x="0" dy="9.1">KB</tspan><tspan x="0" dy="6.6" class="w">p193</tspan></text></g>
<g id="p194" class="n r8"><use href="#K"/><text y="-.6">p194 (0)<tspan x="0" dy="9.1">KB</tspan></text></g>
<g id="p195" class="n r9"><use href="#K"/><text y="-.6">p195 (0)<tspan x="0" dy="9.1">KB</tspan></text></g>
<g id="p196" class="n r10"><use href="#S"/><use href="#K"/><rect x="11" width="6" height="22" fill="#3f7fe0"/><text y="-.6">p196 (16)<tspan x="0" dy="9.1">KB</tspan><tspan x="0" dy="6.6" class="w">p196</tspan></text></g>
<g id="p197" class="n r11"><use href="#K"/><text y="-.6">p197 (0)<tspan x="0" dy="9.1">KB</tspan></text></g>
</g>
<g id="k20" transform="translate(968.3)">
<g id="p198" class="n r1"><use href="#B"/><text y="-.6">p198 (0)<tspan x="0" dy="9.1">YB</tspan></text></g>
<g id="p199" class="n r2"><use href="#B"/><text y="-.6">p199 (10)<tspan x="0" dy="9.1">YB</tspan></text></g>
<g id="p200" class="n r3"><use href="#B"/><text y="-.6">p200 (10)<tspan x="0" dy="9.1">YB</tspan></text></g>
<g id="p201" class="n r4"><use href="#B"/><text y="-.6">p201 (1)<tspan x="0" dy="9.1">YB</tspan></text></g>
<g id="p202" class="n r5"><use href="#S"/><use href="#B"/><rect x="11" width="6" height="22" fill="#6a55c8"/><text y="-.6">p202 (30)<tspan x="0" dy="9.1">AB</tspan><tspan x="0" dy="6.6" class="w">p202</tspan></text></g>
<g id="p203" class="n r6"><use href="#S"/><use href="#B"/><rect x="11" width="6" height="22" fill="#6a55c8"/><text y="-.6">p203 (22)<tspan x="0" dy="9.1">AB</tspan><tspan x="0" dy="6.6" class="w">p203</tspan></text></g>
<g id="p204" class="n r7"><use href="#B"/><text y="-.6">p204 (2)<tspan x="0" dy="9.1">YB</tspan></text></g>
<g id="p205" class="n r8"><use href="#S"/><use href="#B"/><rect x="11" width="6" height="22" fill="#6a55c8"/><text y="-.6">p205 (12)<tspan x="0" dy="9.1">YB</tspan><tspan x="0" dy="6.6" class="w">p205</tspan></text></g>
<g id="p206" class="n r9"><use href="#B"/><text y="-.6">p206 (0)<tspan x="0" dy="9.1">YB</tspan></text></g>
<g id="p207" class="n r10"><use href="#S"/><use href="#B"/><rect x="11" width="6" height="22" fill="#6a55c8"/><text y="-.6">p207 (12)<tspan x="0" dy="9.1">YB</tspan><tspan x="0" dy="6.6" class="w">p207</tspan></text></g>
<g id="p208" class="n r11"><use href="#W"/><text y="-.6">p208 (10)<tspan x="0" dy="9.1">W</tspan></text></g>
</g>
<g id="k21" transform="translate(1017)">
<g id="p209" class="n r1"><use href="#B"/><text y="-.6">p209 (2)<tspan x="0" dy="9.1">AB</tspan></text></g>
<g id="p210" class="n r2"><use href="#S"/><use href="#B"/><rect x="11" width="6" height="22" fill="#d8b010"/><text y="-.6">p210 (11)<tspan x="0" dy="9.1">AB</tspan><tspan x="0" dy="6.6" class="w">p210</tspan></text></g>
<g id="p211" class="n r3"><use href="#B"/><text y="-.6">p211 (0)<tspan x="0" dy="9.1">AB</tspan></text></g>
<g id="p212" class="n r4"><use href="#B"/><text y="-.6">p212 (10)<tspan x="0" dy="9.1">AB</tspan></text></g>
<g id="p213" class="n r5"><use href="#B"/><text y="-.6">p213 (0)<tspan x="0" dy="9.1">AB</tspan></text></g>
<g id="p214" class="n r6"><use href="#B"/><text y="-.6">p214 (10)<tspan x="0" dy="9.1">AB</tspan></text></g>
<g id="p215" class="n r7"><use href="#B"/><text y="-.6">p215 (0)<tspan x="0" dy="9.1">AB</tspan></text></g>
<g id="p216" class="n r8"><use href="#B"/><text y="-.6">p216 (0)<tspan x="0" dy="9.1">AB</tspan></text></g>
<g id="p217" class="n r9"><use href="#B"/><text y="-.6">p217 (2)<tspan x="0" dy="9.1">AB</tspan></text></g>
<g id="p218" class="n r10"><use href="#B"/><text y="-.6">p218 (12)<tspan x="0" dy="9.1">AB</tspan></text></g>
<g id="p219" class="n r11"><use href="#B"/><text y="-.6">p219 (0)<tspan x="0" dy="9.1">AB</tspan></text></g>
</g>
<g id="k22" transform="translate(1065.7)">
<g id="p220" class="n r1"><use href="#Y"/><text y="-.6">p220 (0)<tspan x="0" dy="9.1">YY</tspan></text></g>
<g id="p221" class="n r2"><use href="#Y"/><text y="-.6">p221 (0)<tspan x="0" dy="9.1">YY</tspan></text></g>
<g id="p222" class="n r3"><use href="#Y"/><text y="-.6">p222 (0)<tspan x="0" dy="9.1">YY</tspan></text></g>
<g id="p223" class="n r4"><use href="#Y"/><text y="-.6">p223 (0)<tspan x="0" dy="9.1">YY</tspan></text></g>
<g id="p224" class="n r5"><use href="#Y"/><text y="-.6">p224 (0)<tspan x="0" dy="9.1">YY</tspan></text></g>
<g id="p225" class="n r6"><use href="#Y"/><text y="-.6">p225 (0)<tspan x="0" dy="9.1">YY</tspan></text></g>
<g id="p226" class="n r7"><use href="#S"/><use href="#B"/><rect x="11" width="6" height="22" fill="#e07a20"/><text y="-.6">p226 (7)<tspan x="0" dy="9.1">AB</tspan><tspan x="0" dy="6.6" class="w">p226</tspan></text></g>
<g id="p227" class="n r8"><use href="#S"/><use href="#Z"/><rect x="11" width="6" height="22" fill="#e07a20"/><text y="-.6">p227 (10)<tspan x="0" dy="9.1">YY</tspan><tspan x="0" dy="6.6" class="w">p227</tspan></text></g>
<g id="p228" class="n r9"><use href="#Z"/><text y="-.6">p228 (10)<tspan x="0" dy="9.1">W:YY</tspan></text></g>
<g id="p229" class="n r10"><use href="#B"/><text y="-.6">p229 (0)<tspan x="0" dy="9.1">AB</tspan></text></g>
<g id="p230" class="n r11"><use href="#S"/><use href="#B"/><rect x="11" width="6" height="22" fill="#e07a20"/><text y="-.6">p230 (46)<tspan x="0" dy="9.1">AB</tspan><tspan x="0" dy="6.6" class="w">p230</tspan></text></g>
</g>
<g id="k23" transform="translate(1114.4)">
<g id="p231" class="n r1"><use href="#B"/><text y="-.6">p231 (10)<tspan x="0" dy="9.1">YB</tspan></text></g>
<g id="p232" class="n r2"><use href="#B"/><text y="-.6">p232 (0)<tspan x="0" dy="9.1">YB</tspan></text></g>
<g id="p233" class="n r3"><use href="#B"/><text y="-.6">p233 (10)<tspan x="0" dy="9.1">YB</tspan></text></g>
<g id="p234" class="n r4"><use href="#K"/><text y="-.6">p234 (0)<tspan x="0" dy="9.1">KB</tspan></text></g>
<g id="p235" class="n r5"><use href="#B"/><text y="-.6">p235 (10)<tspan x="0" dy="9.1">YB</tspan></text></g>
<g id="p236" class="n r6"><use href="#B"/><text y="-.6">p236 (10)<tspan x="0" dy="9.1">YB</tspan></text></g>
<g id="p237" class="n r7"><use href="#S"/><use href="#B"/><rect x="11" width="6" height="22" fill="#3f9f7a"/><text y="-.6">p237 (11)<tspan x="0" dy="9.1">YB</tspan><tspan x="0" dy="6.6" class="w">p237</tspan></text></g>
<g id="p238" class="n r8"><use href="#B"/><text y="-.6">p238 (10)<tspan x="0" dy="9.1">YB</tspan></text></g>
<g id="p239" class="n r9"><use href="#S"/><use href="#B"/><rect x="11" width="6" height="22" fill="#3f8f6a"/><text y="-.6">p239 (14)<tspan x="0" dy="9.1">YB</tspan><tspan x="0" dy="6.6" class="w">p239</tspan></text></g>
<g id="p240" class="n r10"><use href="#B"/><text y="-.6">p240 (10)<tspan x="0" dy="9.1">YB</tspan></text></g>
<g id="p241" class="n r11"><use href="#S"/><use href="#B"/><rect x="11" width="6" height="22" fill="#3f8f6a"/><text y="-.6">p241 (40)<tspan x="0" dy="9.1">YB</tspan><tspan x="0" dy="6.6" class="w">p241</tspan></text></g>
</g>
<g id="k24" transform="translate(1163.1)">
<g id="p242" class="n r1"><use href="#X"/><text y="-.6">p242 (0)<tspan x="0" dy="9.1">W:YB</tspan></text></g>
<g id="p243" class="n r2"><use href="#X"/><text y="-.6">p243 (0)<tspan x="0" dy="9.1">W:YB</tspan></text></g>
<g id="p244" class="n r3"><use href="#X"/><text y="-.6">p244 (0)<tspan x="0" dy="9.1">W:YB</tspan></text></g>
<g id="p245" class="n r4"><use href="#X"/><text y="-.6">p245 (0)<tspan x="0" dy="9.1">W:YB</tspan></text></g>
<g id="p246" class="n r5"><use href="#X"/><text y="-.6">p246 (0)<tspan x="0" dy="9.1">W:YB</tspan></text></g>
<g id="p247" class="n r6"><use href="#X"/><text y="-.6">p247 (100)<tspan x="0" dy="9.1">W:YB</tspan></text></g>
<g id="p248" class="n r7"><use href="#X"/><text y="-.6">p248 (0)<tspan x="0" dy="9.1">W:YB</tspan></text></g>
<g id="p249" class="n r8"><use href="#X"/><text y="-.6">p249 (0)<tspan x="0" dy="9.1">W:YB</tspan></text></g>
<g id="p250" class="n r9"><use href="#X"/><text y="-.6">p250 (0)<tspan x="0" dy="9.1">W:YB</tspan></text></g>
<g id="p251" class="n r10"><use href="#X"/><text y="-.6">p251 (10)<tspan x="0" dy="9.1">W:YB</tspan></text></g>
<g id="p252" class="n r11"><use href="#S"/><use href="#X"/><rect x="11" width="6" height="22" fill="#8cd43c"/><text y="-.6">p252 (110)<tspan x="0" dy="9.1">W:YB</tspan><tspan x="0" dy="6.6" class="w">p252</tspan></text></g>
</g>
<g id="k25" transform="translate(1211.8)">
<g id="p253" class="n r1"><use href="#K"/><text y="-.6">p253 (0)<tspan x="0" dy="9.1">KB</tspan></text></g>
<g id="p254" class="n r2"><use href="#K"/><text y="-.6">p254 (10)<tspan x="0" dy="9.1">KB</tspan></text></g>
<g id="p255" class="n r3"><use href="#K"/><text y="-.6">p255 (10)<tspan x="0" dy="9.1">KB</tspan></text></g>
<g id="p256" class="n r4"><use href="#K"/><text y="-.6">p256 (0)<tspan x="0" dy="9.1">KB</tspan></text></g>
<g id="p257" class="n r5"><use href="#K"/><text y="-.6">p257 (10)<tspan x="0" dy="9.1">KB</tspan></text></g>
<g id="p258" class="n r6"><use href="#S"/><use href="#K"/><rect x="11" width="6" height="22" fill="#2f9e9e"/><text y="-.6">p258 (70)<tspan x="0" dy="9.1">KB</tspan><tspan x="0" dy="6.6" class="w">p258</tspan></text></g>
<g id="p259" class="n r7"><use href="#S"/><use href="#K"/><rect x="11" width="6" height="22" fill="#2fb8b8"/><text y="-.6">p259 (20)<tspan x="0" dy="9.1">KB</tspan><tspan x="0" dy="6.6" class="w">p259</tspan></text></g>
<g id="p260" class="n r8"><use href="#K"/><text y="-.6">p260 (10)<tspan x="0" dy="9.1">KB</tspan></text></g>
<g id="p261" class="n r9"><use href="#K"/><text y="-.6">p261 (0)<tspan x="0" dy="9.1">KB</tspan></text></g>
<g id="p262" class="n r10"><use href="#K"/><text y="-.6">p262 (0)<tspan x="0" dy="9.1">KB</tspan></text></g>
<g id="p263" class="n r11"><use href="#K"/><text y="-.6">p263 (0)<tspan x="0" dy="9.1">KB</tspan></text></g>
</g>
<g id="k26" transform="translate(1260.5)">
<g id="p264" class="n r1"><use href="#W"/><text y="-.6">p264 (0)<tspan x="0" dy="9.1">W</tspan></text></g>
<g id="p265" class="n r2"><use href="#W"/><text y="-.6">p265 (0)<tspan x="0" dy="9.1">W</tspan></text></g>
<g id="p266" class="n r3"><use href="#W"/><text y="-.6">p266 (10)<tspan x="0" dy="9.1">W</tspan></text></g>
<g id="p267" class="n r4"><use href="#W"/><text y="-.6">p267 (10)<tspan x="0" dy="9.1">W</tspan></text></g>
<g id="p268" class="n r5"><use href="#W"/><text y="-.6">p268 (20)<tspan x="0" dy="9.1">W</tspan></text></g>
<g id="p269" class="n r6"><use href="#W"/><text y="-.6">p269 (10)<tspan x="0" dy="9.1">W</tspan></text></g>
<g id="p270" class="n r7"><use href="#K"/><text y="-.6">p270 (0)<tspan x="0" dy="9.1">KB</tspan></text></g>
<g id="p271" class="n r8"><use href="#S"/><use href="#W"/><rect x="11" width="6" height="22" fill="#6a55c8"/><text y="-.6">p271 (10)<tspan x="0" dy="9.1">W</tspan><tspan x="0" dy="6.6" class="w">p271</tspan></text></g>
<g id="p272" class="n r9"><use href="#W"/><text y="-.6">p272 (0)<tspan x="0" dy="9.1">W</tspan></text></g>
<g id="p273" class="n r10"><use href="#S"/><use href="#W"/><rect x="11" width="6" height="22" fill="#6a55c8"/><text y="-.6">p273 (10)<tspan x="0" dy="9.1">W</tspan><tspan x="0" dy="6.6" class="w">p273</tspan></text></g>
<g id="p274" class="n r11"><use href="#S"/><use href="#W"/><rect x="11" width="6" height="22" fill="#6a55c8"/><text y="-.6">p274 (30)<tspan x="0" dy="9.1">W</tspan><tspan x="0" dy="6.6" class="w">p274</tspan></text></g>
</g>
<g id="k27" transform="translate(1309.2)">
<g id="p275" class="n r1"><use href="#K"/><text y="-.6">p275 (10)<tspan x="0" dy="9.1">KB</tspan></text></g>
<g id="p276" class="n r2"><use href="#K"/><text y="-.6">p276 (10)<tspan x="0" dy="9.1">KB</tspan></text></g>
<g id="p277" class="n r3"><use href="#B"/><text y="-.6">p277 (0)<tspan x="0" dy="9.1">YB</tspan></text></g>
<g id="p278" class="n r4"><use href="#B"/><text y="-.6">p278 (0)<tspan x="0" dy="9.1">YB</tspan></text></g>
<g id="p279" class="n r5"><use href="#K"/><text y="-.6">p279 (0)<tspan x="0" dy="9.1">KB</tspan></text></g>
<g id="p280" class="n r6"><use href="#B"/><text y="-.6">p280 (70)<tspan x="0" dy="9.1">AB</tspan></text></g>
<g id="p281" class="n r7"><use href="#K"/><text y="-.6">p281 (20)<tspan x="0" dy="9.1">KB</tspan></text></g>
<g id="p282" class="n r8"><use href="#S"/><use href="#B"/><rect x="11" width="6" height="22" fill="#e07a20"/><text y="-.6">p282 (20)<tspan x="0" dy="9.1">YB</tspan><tspan x="0" dy="6.6" class="w">p282</tspan></text></g>
<g id="p283" class="n r9"><use href="#B"/><text y="-.6">p283 (0)<tspan x="0" dy="9.1">AB</tspan></text></g>
<g id="p284" class="n r10"><use href="#B"/><text y="-.6">p284 (0)<tspan x="0" dy="9.1">YB</tspan></text></g>
<g id="p285" class="n r11"><use href="#S"/><use href="#B"/><rect x="11" width="6" height="22" fill="#e07a20"/><text y="-.6">p285 (10)<tspan x="0" dy="9.1">AB</tspan><tspan x="0" dy="6.6" class="w">p285</tspan></text></g>
</g>
<g id="k28" transform="translate(1357.9)">
<g id="p286" class="n r1"><use href="#B"/><text y="-.6">p286 (0)<tspan x="0" dy="9.1">YB</tspan></text></g>
<g id="p287" class="n r2"><use href="#K"/><text y="-.6">p287 (0)<tspan x="0" dy="9.1">KB</tspan></text></g>
<g id="p288" class="n r3"><use href="#K"/><text y="-.6">p288 (0)<tspan x="0" dy="9.1">KB</tspan></text></g>
<g id="p289" class="n r4"><use href="#K"/><text y="-.6">p289 (0)<tspan x="0" dy="9.1">KB</tspan></text></g>
<g id="p290" class="n r5"><use href="#K"/><text y="-.6">p290 (20)<tspan x="0" dy="9.1">KB</tspan></text></g>
<g id="p291" class="n r6"><use href="#S"/><use href="#Y"/><rect x="11" width="6" height="22" fill="#d03c96"/><text y="-.6">p291 (110)<tspan x="0" dy="9.1">YY</tspan><tspan x="0" dy="6.6" class="w">p291</tspan></text></g>
<g id="p292" class="n r7"><use href="#K"/><text y="-.6">p292 (20)<tspan x="0" dy="9.1">KB</tspan></text></g>
<g id="p293" class="n r8"><use href="#K"/><text y="-.6">p293 (10)<tspan x="0" dy="9.1">KB</tspan></text></g>
<g id="p294" class="n r9"><use href="#K"/><text y="-.6">p294 (0)<tspan x="0" dy="9.1">KB</tspan></text></g>
<g id="p295" class="n r10"><use href="#S"/><use href="#K"/><rect x="11" width="6" height="22" fill="#d03c96"/><text y="-.6">p295 (14)<tspan x="0" dy="9.1">KB</tspan><tspan x="0" dy="6.6" class="w">p295</tspan></text></g>
<g id="p296" class="n r11"><use href="#K"/><text y="-.6">p296 (20)<tspan x="0" dy="9.1">KB</tspan></text></g>
</g>
<g id="k29" transform="translate(1406.6)">
<g id="p297" class="n r1"><use href="#K"/><text y="-.6">p297 (0)<tspan x="0" dy="9.1">KB</tspan></text></g>
<g id="p298" class="n r2"><use href="#K"/><text y="-.6">p298 (0)<tspan x="0" dy="9.1">KB</tspan></text></g>
<g id="p299" class="n r3"><use href="#K"/><text y="-.6">p299 (0)<tspan x="0" dy="9.1">KB</tspan></text></g>
<g id="p300" class="n r4"><use href="#K"/><text y="-.6">p300 (0)<tspan x="0" dy="9.1">KB</tspan></text></g>
<g id="p301" class="n r5"><use href="#S"/><use href="#K"/><rect x="11" width="6" height="22" fill="#8f86e6"/><text y="-.6">p301 (30)<tspan x="0" dy="9.1">KB</tspan><tspan x="0" dy="6.6" class="w">p301</tspan></text></g>
<g id="p302" class="n r6"><use href="#K"/><text y="-.6">p302 (10)<tspan x="0" dy="9.1">KB</tspan></text></g>
<g id="p303" class="n r7"><use href="#K"/><text y="-.6">p303 (0)<tspan x="0" dy="9.1">KB</tspan></text></g>
<g id="p304" class="n r8"><use href="#S"/><use href="#K"/><rect x="11" width="6" height="22" fill="#8f86e6"/><text y="-.6">p304 (40)<tspan x="0" dy="9.1">KB</tspan><tspan x="0" dy="6.6" class="w">p304</tspan></text></g>
<g id="p305" class="n r9"><use href="#K"/><text y="-.6">p305 (10)<tspan x="0" dy="9.1">KB</tspan></text></g>
<g id="p306" class="n r10"><use href="#S"/><use href="#K"/><rect x="11" width="6" height="22" fill="#8f86e6"/><text y="-.6">p306 (40)<tspan x="0" dy="9.1">KB</tspan><tspan x="0" dy="6.6" class="w">p306</tspan></text></g>
</g>
<g id="k30" transform="translate(1455.3)">
<g id="p307" class="n r1"><use href="#W"/><text y="-.6">p307 (10)<tspan x="0" dy="9.1">W</tspan></text></g>
<g id="p308" class="n r2"><use href="#Y"/><text y="-.6">p308 (0)<tspan x="0" dy="9.1">YY</tspan></text></g>
<g id="p309" class="n r3"><use href="#W"/><text y="-.6">p309 (0)<tspan x="0" dy="9.1">W</tspan></text></g>
<g id="p310" class="n r4"><use href="#Y"/><text y="-.6">p310 (0)<tspan x="0" dy="9.1">YY</tspan></text></g>
<g id="p311" class="n r5"><use href="#Z"/><text y="-.6">p311 (0)<tspan x="0" dy="9.1">W:YY</tspan></text></g>
<g id="p312" class="n r6"><use href="#W"/><text y="-.6">p312 (0)<tspan x="0" dy="9.1">W</tspan></text></g>
<g id="p313" class="n r7"><use href="#W"/><text y="-.6">p313 (0)<tspan x="0" dy="9.1">W</tspan></text></g>
<g id="p314" class="n r8"><use href="#W"/><text y="-.6">p314 (10)<tspan x="0" dy="9.1">W</tspan></text></g>
<g id="p315" class="n r9"><use href="#W"/><text y="-.6">p315 (0)<tspan x="0" dy="9.1">W</tspan></text></g>
<g id="p316" class="n r10"><use href="#W"/><text y="-.6">p316 (0)<tspan x="0" dy="9.1">W</tspan></text></g>
<g id="p317" class="n r11"><use href="#W"/><text y="-.6">p317 (10)<tspan x="0" dy="9.1">W</tspan></text></g>
</g>
<g id="k31" transform="translate(1504)">
<g id="p318" class="n r1"><use href="#W"/><text y="-.6">p318 (0)<tspan x="0" dy="9.1">W</tspan></text></g>
<g id="p319" class="n r2"><use href="#W"/><text y="-.6">p319 (32)<tspan x="0" dy="9.1">W</tspan></text></g>
<g id="p320" class="n r3"><use href="#W"/><text y="-.6">p320 (0)<tspan x="0" dy="9.1">W</tspan></text></g>
<g id="p321" class="n r4"><use href="#W"/><text y="-.6">p321 (2)<tspan x="0" dy="9.1">W</tspan></text></g>
<g id="p322" class="n r5"><use href="#W"/><text y="-.6">p322 (10)<tspan x="0" dy="9.1">W</tspan></text></g>
<g id="p323" class="n r6"><use href="#W"/><text y="-.6">p323 (2)<tspan x="0" dy="9.1">W</tspan></text></g>
<g id="p324" class="n r7"><use href="#W"/><text y="-.6">p324 (0)<tspan x="0" dy="9.1">W</tspan></text></g>
<g id="p325" class="n r8"><use href="#W"/><text y="-.6">p325 (2)<tspan x="0" dy="9.1">W</tspan></text></g>
<g id="p326" class="n r9"><use href="#W"/><text y="-.6">p326 (1)<tspan x="0" dy="9.1">W</tspan></text></g>
<g id="p327" class="n r10"><use href="#W"/><text y="-.6">p327 (0)<tspan x="0" dy="9.1">W</tspan></text></g>
<g id="p328" class="n r11"><use href="#S"/><use href="#W"/><rect x="11" width="6" height="22" fill="#3f7fe0"/><text y="-.6">p328 (30)<tspan x="0" dy="9.1">W</tspan><tspan x="0" dy="6.6" class="w">p328</tspan></text></g>
</g>
<g id="k32" transform="translate(1552.7)">
<g id="p329" class="n r1"><use href="#Y"/><text y="-.6">p329 (0)<tspan x="0" dy="9.1">YY</tspan></text></g>
<g id="p330" class="n r2"><use href="#Y"/><text y="-.6">p330 (0)<tspan x="0" dy="9.1">YY</tspan></text></g>
<g id="p331" class="n r3"><use href="#Y"/><text y="-.6">p331 (0)<tspan x="0" dy="9.1">YY</tspan></text></g>
<g id="p332" class="n r4"><use href="#Y"/><text y="-.6">p332 (0)<tspan x="0" dy="9.1">YY</tspan></text></g>
<g id="p333" class="n r5"><use href="#Y"/><text y="-.6">p333 (0)<tspan x="0" dy="9.1">YY</tspan></text></g>
<g id="p334" class="n r6"><use href="#Y"/><text y="-.6">p334 (0)<tspan x="0" dy="9.1">YY</tspan></text></g>
<g id="p335" class="n r7"><use href="#Y"/><text y="-.6">p335 (0)<tspan x="0" dy="9.1">YY</tspan></text></g>
<g id="p336" class="n r8"><use href="#Y"/><text y="-.6">p336 (0)<tspan x="0" dy="9.1">YY</tspan></text></g>
<g id="p337" class="n r9"><use href="#S"/><use href="#Y"/><rect x="11" width="6" height="22" fill="#6a55c8"/><text y="-.6">p337 (12)<tspan x="0" dy="9.1">YY</tspan><tspan x="0" dy="6.6" class="w">p337</tspan></text></g>
<g id="p338" class="n r10"><use href="#S"/><use href="#Y"/><rect x="11" width="6" height="22" fill="#6a55c8"/><text y="-.6">p338 (24)<tspan x="0" dy="9.1">YY</tspan><tspan x="0" dy="6.6" class="w">p338</tspan></text></g>
<g id="p339" class="n r11"><use href="#B"/><text y="-.6">p339 (0)<tspan x="0" dy="9.1">YB</tspan></text></g>
</g>
<g id="k33" transform="translate(1601.4)">
<g id="p340" class="n r1"><use href="#Y"/><text y="-.6">p340 (117)<tspan x="0" dy="9.1">YY</tspan></text></g>
<g id="p341" class="n r2"><use href="#Y"/><text y="-.6">p341 (0)<tspan x="0" dy="9.1">YY</tspan></text></g>
<g id="p342" class="n r3"><use href="#W"/><text y="-.6">p342 (10)<tspan x="0" dy="9.1">W</tspan></text></g>
<g id="p343" class="n r4"><use href="#W"/><text y="-.6">p343 (10)<tspan x="0" dy="9.1">W</tspan></text></g>
<g id="p344" class="n r5"><use href="#W"/><text y="-.6">p344 (10)<tspan x="0" dy="9.1">W</tspan></text></g>
<g id="p345" class="n r6"><use href="#W"/><text y="-.6">p345 (0)<tspan x="0" dy="9.1">W</tspan></text></g>
<g id="p346" class="n r7"><use href="#W"/><text y="-.6">p346 (17)<tspan x="0" dy="9.1">W</tspan></text></g>
<g id="p347" class="n r8"><use href="#S"/><use href="#W"/><rect x="11" width="6" height="22" fill="#d8b010"/><text y="-.6">p347 (100)<tspan x="0" dy="9.1">W</tspan><tspan x="0" dy="6.6" class="w">p347</tspan></text></g>
<g id="p348" class="n r9"><use href="#W"/><text y="-.6">p348 (10)<tspan x="0" dy="9.1">W</tspan></text></g>
<g id="p349" class="n r10"><use href="#W"/><text y="-.6">p349 (10)<tspan x="0" dy="9.1">W</tspan></text></g>
<g id="p350" class="n r11"><use href="#W"/><text y="-.6">p350 (20)<tspan x="0" dy="9.1">W</tspan></text></g>
</g>
<g id="k34" transform="translate(1650.1)">
<g id="p351" class="n r1"><use href="#Y"/><text y="-.6">p351 (0)<tspan x="0" dy="9.1">YY</tspan></text></g>
<g id="p352" class="n r2"><use href="#Y"/><text y="-.6">p352 (0)<tspan x="0" dy="9.1">YY</tspan></text></g>
<g id="p353" class="n r3"><use href="#Y"/><text y="-.6">p353 (0)<tspan x="0" dy="9.1">YY</tspan></text></g>
<g id="p354" class="n r4"><use href="#Y"/><text y="-.6">p354 (0)<tspan x="0" dy="9.1">YY</tspan></text></g>
<g id="p355" class="n r5"><use href="#Y"/><text y="-.6">p355 (0)<tspan x="0" dy="9.1">YY</tspan></text></g>
<g id="p356" class="n r6"><use href="#Y"/><text y="-.6">p356 (20)<tspan x="0" dy="9.1">YY</tspan></text></g>
<g id="p357" class="n r7"><use href="#Y"/><text y="-.6">p357 (10)<tspan x="0" dy="9.1">YY</tspan></text></g>
<g id="p358" class="n r8"><use href="#Y"/><text y="-.6">p358 (30)<tspan x="0" dy="9.1">YY</tspan></text></g>
<g id="p359" class="n r9"><use href="#Y"/><text y="-.6">p359 (10)<tspan x="0" dy="9.1">YY</tspan></text></g>
<g id="p360" class="n r10"><use href="#S"/><use href="#Y"/><rect x="11" width="6" height="22" fill="#e07a20"/><text y="-.6">p360 (20)<tspan x="0" dy="9.1">YY</tspan><tspan x="0" dy="6.6" class="w">p360</tspan></text></g>
<g id="p361" class="n r11"><use href="#S"/><use href="#Y"/><rect x="11" width="6" height="22" fill="#e07a20"/><text y="-.6">p361 (52)<tspan x="0" dy="9.1">YY</tspan><tspan x="0" dy="6.6" class="w">p361</tspan></text></g>
</g>
<g id="k35" transform="translate(1698.8)">
<g id="p362" class="n r1"><use href="#B"/><text y="-.6">p362 (0)<tspan x="0" dy="9.1">AB</tspan></text></g>
<g id="p363" class="n r2"><use href="#B"/><text y="-.6">p363 (0)<tspan x="0" dy="9.1">AB</tspan></text></g>
<g id="p364" class="n r3"><use href="#B"/><text y="-.6">p364 (0)<tspan x="0" dy="9.1">AB</tspan></text></g>
<g id="p365" class="n r4"><use href="#B"/><text y="-.6">p365 (0)<tspan x="0" dy="9.1">AB</tspan></text></g>
<g id="p366" class="n r5"><use href="#B"/><text y="-.6">p366 (0)<tspan x="0" dy="9.1">AB</tspan></text></g>
<g id="p367" class="n r6"><use href="#B"/><text y="-.6">p367 (20)<tspan x="0" dy="9.1">AB</tspan></text></g>
<g id="p368" class="n r7"><use href="#S"/><use href="#B"/><rect x="11" width="6" height="22" fill="#3f8f6a"/><text y="-.6">p368 (40)<tspan x="0" dy="9.1">AB</tspan><tspan x="0" dy="6.6" class="w">p368</tspan></text></g>
<g id="p369" class="n r8"><use href="#B"/><text y="-.6">p369 (43)<tspan x="0" dy="9.1">AB</tspan></text></g>
<g id="p370" class="n r9"><use href="#B"/><text y="-.6">p370 (20)<tspan x="0" dy="9.1">AB</tspan></text></g>
<g id="p371" class="n r10"><use href="#S"/><use href="#B"/><rect x="11" width="6" height="22" fill="#3f8f6a"/><text y="-.6">p371 (80)<tspan x="0" dy="9.1">AB</tspan><tspan x="0" dy="6.6" class="w">p371</tspan></text></g>
<g id="p372" class="n r11"><use href="#W"/><text y="-.6">p372 (2)<tspan x="0" dy="9.1">W</tspan></text></g>
</g>
<g id="k36" transform="translate(1747.5)">
<g id="p373" class="n r1"><use href="#W"/><text y="-.6">p373 (0)<tspan x="0" dy="9.1">W</tspan></text></g>
<g id="p374" class="n r2"><use href="#W"/><text y="-.6">p374 (0)<tspan x="0" dy="9.1">W</tspan></text></g>
<g id="p375" class="n r3"><use href="#W"/><text y="-.6">p375 (0)<tspan x="0" dy="9.1">W</tspan></text></g>
<g id="p376" class="n r4"><use href="#W"/><text y="-.6">p376 (0)<tspan x="0" dy="9.1">W</tspan></text></g>
<g id="p377" class="n r5"><use href="#W"/><text y="-.6">p377 (0)<tspan x="0" dy="9.1">W</tspan></text></g>
<g id="p378" class="n r6"><use href="#K"/><text y="-.6">p378 (20)<tspan x="0" dy="9.1">KB</tspan></text></g>
<g id="p379" class="n r7"><use href="#W"/><text y="-.6">p379 (0)<tspan x="0" dy="9.1">W</tspan></text></g>
<g id="p380" class="n r8"><use href="#W"/><text y="-.6">p380 (0)<tspan x="0" dy="9.1">W</tspan></text></g>
<g id="p381" class="n r9"><use href="#W"/><text y="-.6">p381 (0)<tspan x="0" dy="9.1">W</tspan></text></g>
<g id="p382" class="n r10"><use href="#W"/><text y="-.6">p382 (0)<tspan x="0" dy="9.1">W</tspan></text></g>
<g id="p383" class="n r11"><use href="#W"/><text y="-.6">p383 (20)<tspan x="0" dy="9.1">W</tspan></text></g>
</g>
<g id="k37" transform="translate(1796.2)">
<g id="p384" class="n r1"><use href="#W"/><text y="-.6">p384 (0)<tspan x="0" dy="9.1">W</tspan></text></g>
<g id="p385" class="n r2"><use href="#W"/><text y="-.6">p385 (0)<tspan x="0" dy="9.1">W</tspan></text></g>
<g id="p386" class="n r3"><use href="#W"/><text y="-.6">p386 (0)<tspan x="0" dy="9.1">W</tspan></text></g>
<g id="p387" class="n r4"><use href="#W"/><text y="-.6">p387 (0)<tspan x="0" dy="9.1">W</tspan></text></g>
<g id="p388" class="n r5"><use href="#W"/><text y="-.6">p388 (0)<tspan x="0" dy="9.1">W</tspan></text></g>
<g id="p389" class="n r6"><use href="#B"/><text y="-.6">p389 (20)<tspan x="0" dy="9.1">AB</tspan></text></g>
<g id="p390" class="n r7"><use href="#W"/><text y="-.6">p390 (0)<tspan x="0" dy="9.1">W</tspan></text></g>
<g id="p391" class="n r8"><use href="#W"/><text y="-.6">p391 (0)<tspan x="0" dy="9.1">W</tspan></text></g>
<g id="p392" class="n r9"><use href="#W"/><text y="-.6">p392 (0)<tspan x="0" dy="9.1">W</tspan></text></g>
<g id="p393" class="n r10"><use href="#W"/><text y="-.6">p393 (0)<tspan x="0" dy="9.1">W</tspan></text></g>
<g id="p394" class="n r11"><use href="#W"/><text y="-.6">p394 (10)<tspan x="0" dy="9.1">W</tspan></text></g>
</g>
<g id="k38" transform="translate(1844.9)">
<g id="p395" class="n r1"><use href="#Y"/><text y="-.6">p395 (0)<tspan x="0" dy="9.1">YY</tspan></text></g>
<g id="p396" class="n r2"><use href="#Y"/><text y="-.6">p396 (0)<tspan x="0" dy="9.1">YY</tspan></text></g>
<g id="p397" class="n r3"><use href="#Y"/><text y="-.6">p397 (0)<tspan x="0" dy="9.1">YY</tspan></text></g>
<g id="p398" class="n r4"><use href="#Y"/><text y="-.6">p398 (0)<tspan x="0" dy="9.1">YY</tspan></text></g>
<g id="p399" class="n r5"><use href="#Y"/><text y="-.6">p399 (0)<tspan x="0" dy="9.1">YY</tspan></text></g>
<g id="p400" class="n r6"><use href="#K"/><text y="-.6">p400 (40)<tspan x="0" dy="9.1">KB</tspan></text></g>
<g id="p401" class="n r7"><use href="#Y"/><text y="-.6">p401 (0)<tspan x="0" dy="9.1">YY</tspan></text></g>
<g id="p402" class="n r8"><use href="#Y"/><text y="-.6">p402 (0)<tspan x="0" dy="9.1">YY</tspan></text></g>
<g id="p403" class="n r9"><use href="#Y"/><text y="-.6">p403 (0)<tspan x="0" dy="9.1">YY</tspan></text></g>
<g id="p404" class="n r10"><use href="#Y"/><text y="-.6">p404 (10)<tspan x="0" dy="9.1">YY</tspan></text></g>
<g id="p405" class="n r11"><use href="#S"/><use href="#Y"/><rect x="11" width="6" height="22" fill="#5050d0"/><text y="-.6">p405 (70)<tspan x="0" dy="9.1">YY</tspan><tspan x="0" dy="6.6" class="w">p405</tspan></text></g>
</g>
<g id="k39" transform="translate(1893.6)">
<g id="p406" class="n r1"><use href="#B"/><text y="-.6">p406 (0)<tspan x="0" dy="9.1">AB</tspan></text></g>
<g id="p407" class="n r2"><use href="#B"/><text y="-.6">p407 (0)<tspan x="0" dy="9.1">AB</tspan></text></g>
<g id="p408" class="n r3"><use href="#B"/><text y="-.6">p408 (0)<tspan x="0" dy="9.1">AB</tspan></text></g>
<g id="p409" class="n r4"><use href="#B"/><text y="-.6">p409 (0)<tspan x="0" dy="9.1">AB</tspan></text></g>
<g id="p410" class="n r5"><use href="#B"/><text y="-.6">p410 (0)<tspan x="0" dy="9.1">AB</tspan></text></g>
<g id="p411" class="n r6"><use href="#S"/><use href="#K"/><rect x="11" width="6" height="22" fill="#e07a20"/><text y="-.6">p411 (130)<tspan x="0" dy="9.1">KB</tspan><tspan x="0" dy="6.6" class="w">p411</tspan></text></g>
<g id="p412" class="n r7"><use href="#B"/><text y="-.6">p412 (0)<tspan x="0" dy="9.1">AB</tspan></text></g>
<g id="p413" class="n r8"><use href="#P"/><text y="-.6">p413 (0)<tspan x="0" dy="9.1">PK</tspan></text></g>
<g id="p414" class="n r9"><use href="#B"/><text y="-.6">p414 (0)<tspan x="0" dy="9.1">AB</tspan></text></g>
<g id="p415" class="n r10"><use href="#B"/><text y="-.6">p415 (0)<tspan x="0" dy="9.1">AB</tspan></text></g>
<g id="p416" class="n r11"><use href="#B"/><text y="-.6">p416 (0)<tspan x="0" dy="9.1">AB</tspan></text></g>
</g>
<g id="k40" transform="translate(1942.3)">
<g id="p417" class="n r1"><use href="#P"/><text y="-.6">p417 (0)<tspan x="0" dy="9.1">PK</tspan></text></g>
<g id="p418" class="n r2"><use href="#B"/><text y="-.6">p418 (0)<tspan x="0" dy="9.1">YB</tspan></text></g>
<g id="p419" class="n r3"><use href="#B"/><text y="-.6">p419 (0)<tspan x="0" dy="9.1">YB</tspan></text></g>
<g id="p420" class="n r4"><use href="#B"/><text y="-.6">p420 (0)<tspan x="0" dy="9.1">YB</tspan></text></g>
<g id="p421" class="n r5"><use href="#B"/><text y="-.6">p421 (0)<tspan x="0" dy="9.1">YB</tspan></text></g>
<g id="p422" class="n r6"><use href="#S"/><use href="#K"/><rect x="11" width="6" height="22" fill="#d03c96"/><text y="-.6">p422 (40)<tspan x="0" dy="9.1">KB</tspan><tspan x="0" dy="6.6" class="w">p422</tspan></text></g>
<g id="p423" class="n r7"><use href="#W"/><text y="-.6">p423 (10)<tspan x="0" dy="9.1">W</tspan></text></g>
<g id="p424" class="n r8"><use href="#W"/><text y="-.6">p424 (1)<tspan x="0" dy="9.1">W</tspan></text></g>
<g id="p425" class="n r9"><use href="#W"/><text y="-.6">p425 (0)<tspan x="0" dy="9.1">W</tspan></text></g>
<g id="p426" class="n r10"><use href="#S"/><use href="#W"/><rect x="11" width="6" height="22" fill="#d03c96"/><text y="-.6">p426 (30)<tspan x="0" dy="9.1">W</tspan><tspan x="0" dy="6.6" class="w">p426</tspan></text></g>
<g id="p427" class="n r11"><use href="#S"/><use href="#W"/><rect x="11" width="6" height="22" fill="#d03c96"/><text y="-.6">p427 (60)<tspan x="0" dy="9.1">W</tspan><tspan x="0" dy="6.6" class="w">p427</tspan></text></g>
</g>
<g id="k41" transform="translate(1991)">
<g id="p428" class="n r1"><use href="#B"/><text y="-.6">p428 (2)<tspan x="0" dy="9.1">YB</tspan></text></g>
<g id="p429" class="n r2"><use href="#B"/><text y="-.6">p429 (0)<tspan x="0" dy="9.1">YB</tspan></text></g>
<g id="p430" class="n r3"><use href="#B"/><text y="-.6">p430 (0)<tspan x="0" dy="9.1">YB</tspan></text></g>
<g id="p431" class="n r4"><use href="#B"/><text y="-.6">p431 (0)<tspan x="0" dy="9.1">YB</tspan></text></g>
<g id="p432" class="n r5"><use href="#B"/><text y="-.6">p432 (0)<tspan x="0" dy="9.1">YB</tspan></text></g>
<g id="p433" class="n r6"><use href="#B"/><text y="-.6">p433 (20)<tspan x="0" dy="9.1">AB</tspan></text></g>
<g id="p434" class="n r7"><use href="#B"/><text y="-.6">p434 (10)<tspan x="0" dy="9.1">YB</tspan></text></g>
<g id="p435" class="n r8"><use href="#B"/><text y="-.6">p435 (10)<tspan x="0" dy="9.1">YB</tspan></text></g>
<g id="p436" class="n r9"><use href="#B"/><text y="-.6">p436 (20)<tspan x="0" dy="9.1">YB</tspan></text></g>
<g id="p437" class="n r10"><use href="#B"/><text y="-.6">p437 (10)<tspan x="0" dy="9.1">YB</tspan></text></g>
<g id="p438" class="n r11"><use href="#B"/><text y="-.6">p438 (40)<tspan x="0" dy="9.1">YB</tspan></text></g>
</g>
<g id="connectors" class="c">
<path stroke="#2fb8b8" d="M61 283L115.4 465.1"/>
<path stroke="#6a55c8" d="M109.7 328L164.1 150.1"/>
<path stroke="#e07a20" d="M158.4 328L358.9 195.1"/>
<path stroke="#e07a20" d="M158.4 508L212.8 330.1"/>
<path stroke="#d03c96" d="M207.1 238L212.8 60.1"/>
<path stroke="#d03c96" d="M207.1 148L261.5 60.1"/>
<path stroke="#8f86e6" d="M255.8 463L310.2 60.1"/>
<path stroke="#8f86e6" d="M255.8 508L310.2 105.1"/>
<path stroke="#6a55c8" d="M255.8 328L310.2 150.1"/>
<path stroke="#44c456" d="M304.5 103L261.5 510.1"/>
<path stroke="#44c456" d="M304.5 328L456.3 105.1"/>
<path stroke="#3f7fe0" d="M353.2 508L358.9 60.1"/>
<path stroke="#3f7fe0" d="M353.2 283L407.6 105.1"/>
<path stroke="#6a55c8" d="M401.9 508L456.3 285.1"/>
<path stroke="#6a55c8" d="M401.9 328L553.7 510.1"/>
<path stroke="#6a55c8" d="M401.9 238L602.4 420.1"/>
<path stroke="#6a55c8" d="M401.9 283L602.4 150.1"/>
<path stroke="#d8b010" d="M450.6 283L407.6 465.1"/>
<path stroke="#e07a20" d="M499.3 463L505 60.1"/>
<path stroke="#e07a20" d="M499.3 508L505 64.7"/>
<path stroke="#e07a20" d="M499.3 283L553.7 420.1"/>
<path stroke="#3f8f6a" d="M548 148L553.7 330.1"/>
<path stroke="#8cd43c" d="M596.7 283L651.1 330.1"/>
<path stroke="#8cd43c" d="M596.7 508L602.4 330.1"/>
<path stroke="#2f9e9e" d="M645.4 148L602.4 465.1"/>
<path stroke="#2fb8b8" d="M645.4 283L748.5 420.1"/>
<path stroke="#6a55c8" d="M694.1 283L699.8 150.1"/>
<path stroke="#6a55c8" d="M694.1 508L699.8 154.7"/>
<path stroke="#6a55c8" d="M694.1 418L748.5 105.1"/>
<path stroke="#e07a20" d="M742.8 283L797.2 330.1"/>
<path stroke="#e07a20" d="M742.8 328L894.6 420.1"/>
<path stroke="#d03c96" d="M791.5 283L748.5 424.7"/>
<path stroke="#d03c96" d="M791.5 328L797.2 60.1"/>
<path stroke="#d03c96" d="M791.5 508L943.3 330.1"/>
<path stroke="#8f86e6" d="M840.2 283L845.9 330.1"/>
<path stroke="#8f86e6" d="M840.2 238L845.9 510.1"/>
<path stroke="#8f86e6" d="M840.2 508L992 195.1"/>
<path stroke="#44c456" d="M888.9 283L1089.4 375.1"/>
<path stroke="#44c456" d="M888.9 463L1040.7 375.1"/>
<path stroke="#3f7fe0" d="M937.6 238L1332.9 510.1"/>
<path stroke="#3f7fe0" d="M937.6 328L894.6 510.1"/>
<path stroke="#3f7fe0" d="M937.6 463L894.6 514.7"/>
<path stroke="#6a55c8" d="M986.3 238L992 420.1"/>
<path stroke="#6a55c8" d="M986.3 283L1089.4 285.1"/>
<path stroke="#6a55c8" d="M986.3 373L1040.7 150.1"/>
<path stroke="#6a55c8" d="M986.3 463L943.3 510.1"/>
<path stroke="#d8b010" d="M1035 103L992 375.1"/>
<path stroke="#e07a20" d="M1083.7 328L1479 60.1"/>
<path stroke="#e07a20" d="M1083.7 373L1089.4 60.1"/>
<path stroke="#e07a20" d="M1083.7 508L1089.4 64.7"/>
<path stroke="#3f9f7a" d="M1132.4 328L1479 240.1"/>
<path stroke="#3f8f6a" d="M1132.4 418L1332.9 420.1"/>
<path stroke="#3f8f6a" d="M1132.4 508L1138.1 465.1"/>
<path stroke="#8cd43c" d="M1181.1 508L1186.8 105.1"/>
<path stroke="#2f9e9e" d="M1229.8 283L1186.8 330.1"/>
<path stroke="#2fb8b8" d="M1229.8 328L1186.8 375.1"/>
<path stroke="#6a55c8" d="M1278.5 373L1284.2 60.1"/>
<path stroke="#6a55c8" d="M1278.5 463L1284.2 64.7"/>
<path stroke="#6a55c8" d="M1278.5 508L1284.2 105.1"/>
<path stroke="#e07a20" d="M1327.2 373L1332.9 150.1"/>
<path stroke="#e07a20" d="M1327.2 508L1332.9 195.1"/>
<path stroke="#d03c96" d="M1375.9 463L1479 244.7"/>
<path stroke="#d03c96" d="M1375.9 283L1576.4 465.1"/>
<path stroke="#8f86e6" d="M1424.6 238L1576.4 150.1"/>
<path stroke="#8f86e6" d="M1424.6 373L1576.4 420.1"/>
<path stroke="#8f86e6" d="M1424.6 463L1430.3 420.1"/>
<path stroke="#3f7fe0" d="M1522 508L1576.4 375.1"/>
<path stroke="#6a55c8" d="M1570.7 463L1625.1 510.1"/>
<path stroke="#d8b010" d="M1619.4 373L1625.1 330.1"/>
<path stroke="#6a55c8" d="M1619.4 373L1966 60.1"/>
<path stroke="#e07a20" d="M1668.1 463L1673.8 195.1"/>
<path stroke="#e07a20" d="M1668.1 508L1722.5 285.1"/>
<path stroke="#3f8f6a" d="M1716.8 328L1722.5 289.7"/>
<path stroke="#3f8f6a" d="M1716.8 463L1722.5 294.3"/>
<path stroke="#5050d0" d="M1862.9 508L1868.6 240.1"/>
<path stroke="#e07a20" d="M1911.6 283L1966 375.1"/>
<path stroke="#d03c96" d="M1960.3 283L1966 330.1"/>
<path stroke="#d03c96" d="M1960.3 508L1966 334.7"/>
</g>
<g id="tags">
<rect x="115.4" y="463" width="19" height="4.2" fill="#2fb8b8"/><text class="t" x="118" y="466.2">←p6</text>
<rect x="164.1" y="148" width="19" height="4.2" fill="#6a55c8"/><text class="t" x="166.7" y="151.2">←p18</text>
<rect x="358.9" y="193" width="19" height="4.2" fill="#e07a20"/><text class="t" x="361.5" y="196.2">←p29</text>
<rect x="212.8" y="328" width="19" height="4.2" fill="#e07a20"/><text class="t" x="215.4" y="331.2">←p33</text>
<rect x="212.8" y="58" width="19" height="4.2" fill="#d03c96"/><text class="t" x="215.4" y="61.2">←p38</text>
<rect x="261.5" y="58" width="19" height="4.2" fill="#d03c96"/><text class="t" x="264.1" y="61.2">←p36</text>
<rect x="310.2" y="58" width="19" height="4.2" fill="#8f86e6"/><text class="t" x="312.8" y="61.2">←p48</text>
<rect x="310.2" y="103" width="19" height="4.2" fill="#8f86e6"/><text class="t" x="312.8" y="106.2">←p49</text>
<rect x="310.2" y="148" width="19" height="4.2" fill="#6a55c8"/><text class="t" x="312.8" y="151.2">←p45</text>
<rect x="261.5" y="508" width="19" height="4.2" fill="#44c456"/><text class="t" x="264.1" y="511.2">←p51</text>
<rect x="456.3" y="103" width="19" height="4.2" fill="#44c456"/><text class="t" x="458.9" y="106.2">←p56</text>
<rect x="358.9" y="58" width="19" height="4.2" fill="#3f7fe0"/><text class="t" x="361.5" y="61.2">←p71</text>
<rect x="407.6" y="103" width="19" height="4.2" fill="#3f7fe0"/><text class="t" x="410.2" y="106.2">←p66</text>
<rect x="456.3" y="283" width="19" height="4.2" fill="#6a55c8"/><text class="t" x="458.9" y="286.2">←p82</text>
<rect x="553.7" y="508" width="19" height="4.2" fill="#6a55c8"/><text class="t" x="556.3" y="511.2">←p78</text>
<rect x="602.4" y="418" width="19" height="4.2" fill="#6a55c8"/><text class="t" x="605" y="421.2">←p76</text>
<rect x="602.4" y="148" width="19" height="4.2" fill="#6a55c8"/><text class="t" x="605" y="151.2">←p77</text>
<rect x="407.6" y="463" width="19" height="4.2" fill="#d8b010"/><text class="t" x="410.2" y="466.2">←p88</text>
<rect x="505" y="58" width="19" height="4.2" fill="#e07a20"/><text class="t" x="507.6" y="61.2">←p103</text>
<rect x="505" y="62.6" width="19" height="4.2" fill="#e07a20"/><text class="t" x="507.6" y="65.8">←p104</text>
<rect x="553.7" y="418" width="19" height="4.2" fill="#e07a20"/><text class="t" x="556.3" y="421.2">←p99</text>
<rect x="553.7" y="328" width="19" height="4.2" fill="#3f8f6a"/><text class="t" x="556.3" y="331.2">←p107</text>
<rect x="651.1" y="328" width="19" height="4.2" fill="#8cd43c"/><text class="t" x="653.7" y="331.2">←p115</text>
<rect x="602.4" y="328" width="19" height="4.2" fill="#8cd43c"/><text class="t" x="605" y="331.2">←p120</text>
<rect x="602.4" y="463" width="19" height="4.2" fill="#2f9e9e"/><text class="t" x="605" y="466.2">←p123</text>
<rect x="748.5" y="418" width="19" height="4.2" fill="#2fb8b8"/><text class="t" x="751.1" y="421.2">←p126</text>
<rect x="699.8" y="148" width="19" height="4.2" fill="#6a55c8"/><text class="t" x="702.4" y="151.2">←p137</text>
<rect x="699.8" y="152.6" width="19" height="4.2" fill="#6a55c8"/><text class="t" x="702.4" y="155.8">←p142</text>
<rect x="748.5" y="103" width="19" height="4.2" fill="#6a55c8"/><text class="t" x="751.1" y="106.2">←p140</text>
<rect x="797.2" y="328" width="19" height="4.2" fill="#e07a20"/><text class="t" x="799.8" y="331.2">←p148</text>
<rect x="894.6" y="418" width="19" height="4.2" fill="#e07a20"/><text class="t" x="897.2" y="421.2">←p149</text>
<rect x="748.5" y="422.6" width="19" height="4.2" fill="#d03c96"/><text class="t" x="751.1" y="425.8">←p159</text>
<rect x="797.2" y="58" width="19" height="4.2" fill="#d03c96"/><text class="t" x="799.8" y="61.2">←p160</text>
<rect x="943.3" y="328" width="19" height="4.2" fill="#d03c96"/><text class="t" x="945.9" y="331.2">←p164</text>
<rect x="845.9" y="328" width="19" height="4.2" fill="#8f86e6"/><text class="t" x="848.5" y="331.2">←p170</text>
<rect x="845.9" y="508" width="19" height="4.2" fill="#8f86e6"/><text class="t" x="848.5" y="511.2">←p169</text>
<rect x="992" y="193" width="19" height="4.2" fill="#8f86e6"/><text class="t" x="994.6" y="196.2">←p175</text>
<rect x="1089.4" y="373" width="19" height="4.2" fill="#44c456"/><text class="t" x="1092" y="376.2">←p181</text>
<rect x="1040.7" y="373" width="19" height="4.2" fill="#44c456"/><text class="t" x="1043.3" y="376.2">←p185</text>
<rect x="1332.9" y="508" width="19" height="4.2" fill="#3f7fe0"/><text class="t" x="1335.5" y="511.2">←p191</text>
<rect x="894.6" y="508" width="19" height="4.2" fill="#3f7fe0"/><text class="t" x="897.2" y="511.2">←p193</text>
<rect x="894.6" y="512.6" width="19" height="4.2" fill="#3f7fe0"/><text class="t" x="897.2" y="515.8">←p196</text>
<rect x="992" y="418" width="19" height="4.2" fill="#6a55c8"/><text class="t" x="994.6" y="421.2">←p202</text>
<rect x="1089.4" y="283" width="19" height="4.2" fill="#6a55c8"/><text class="t" x="1092" y="286.2">←p203</text>
<rect x="1040.7" y="148" width="19" height="4.2" fill="#6a55c8"/><text class="t" x="1043.3" y="151.2">←p205</text>
<rect x="943.3" y="508" width="19" height="4.2" fill="#6a55c8"/><text class="t" x="945.9" y="511.2">←p207</text>
<rect x="992" y="373" width="19" height="4.2" fill="#d8b010"/><text class="t" x="994.6" y="376.2">←p210</text>
<rect x="1479" y="58" width="19" height="4.2" fill="#e07a20"/><text class="t" x="1481.6" y="61.2">←p226</text>
<rect x="1089.4" y="58" width="19" height="4.2" fill="#e07a20"/><text class="t" x="1092" y="61.2">←p227</text>
<rect x="1089.4" y="62.6" width="19" height="4.2" fill="#e07a20"/><text class="t" x="1092" y="65.8">←p230</text>
<rect x="1479" y="238" width="19" height="4.2" fill="#3f9f7a"/><text class="t" x="1481.6" y="241.2">←p237</text>
<rect x="1332.9" y="418" width="19" height="4.2" fill="#3f8f6a"/><text class="t" x="1335.5" y="421.2">←p239</text>
<rect x="1138.1" y="463" width="19" height="4.2" fill="#3f8f6a"/><text class="t" x="1140.7" y="466.2">←p241</text>
<rect x="1186.8" y="103" width="19" height="4.2" fill="#8cd43c"/><text class="t" x="1189.4" y="106.2">←p252</text>
<rect x="1186.8" y="328" width="19" height="4.2" fill="#2f9e9e"/><text class="t" x="1189.4" y="331.2">←p258</text>
<rect x="1186.8" y="373" width="19" height="4.2" fill="#2fb8b8"/><text class="t" x="1189.4" y="376.2">←p259</text>
<rect x="1284.2" y="58" width="19" height="4.2" fill="#6a55c8"/><text class="t" x="1286.8" y="61.2">←p271</text>
<rect x="1284.2" y="62.6" width="19" height="4.2" fill="#6a55c8"/><text class="t" x="1286.8" y="65.8">←p273</text>
<rect x="1284.2" y="103" width="19" height="4.2" fill="#6a55c8"/><text class="t" x="1286.8" y="106.2">←p274</text>
<rect x="1332.9" y="148" width="19" height="4.2" fill="#e07a20"/><text class="t" x="1335.5" y="151.2">←p282</text>
<rect x="1332.9" y="193" width="19" height="4.2" fill="#e07a20"/><text class="t" x="1335.5" y="196.2">←p285</text>
<rect x="1479" y="242.6" width="19" height="4.2" fill="#d03c96"/><text class="t" x="1481.6" y="245.8">←p295</text>
<rect x="1576.4" y="463" width="19" height="4.2" fill="#d03c96"/><text class="t" x="1579" y="466.2">←p291</text>
<rect x="1576.4" y="148" width="19" height="4.2" fill="#8f86e6"/><text class="t" x="1579" y="151.2">←p301</text>
<rect x="1576.4" y="418" width="19" height="4.2" fill="#8f86e6"/><text class="t" x="1579" y="421.2">←p304</text>
<rect x="1430.3" y="418" width="19" height="4.2" fill="#8f86e6"/><text class="t" x="1432.9" y="421.2">←p306</text>
<rect x="1576.4" y="373" width="19" height="4.2" fill="#3f7fe0"/><text class="t" x="1579" y="376.2">←p328</text>
<rect x="1625.1" y="508" width="19" height="4.2" fill="#6a55c8"/><text class="t" x="1627.7" y="511.2">←p338</text>
<rect x="1625.1" y="328" width="19" height="4.2" fill="#d8b010"/><text class="t" x="1627.7" y="331.2">←p347</text>
<rect x="1966" y="58" width="19" height="4.2" fill="#6a55c8"/><text class="t" x="1968.6" y="61.2">←p332</text>
<rect x="1673.8" y="193" width="19" height="4.2" fill="#e07a20"/><text class="t" x="1676.4" y="196.2">←p360</text>
<rect x="1722.5" y="283" width="19" height="4.2" fill="#e07a20"/><text class="t" x="1725.1" y="286.2">←p361</text>
<rect x="1722.5" y="287.6" width="19" height="4.2" fill="#3f8f6a"/><text class="t" x="1725.1" y="290.8">←p368</text>
<rect x="1722.5" y="292.2" width="19" height="4.2" fill="#3f8f6a"/><text class="t" x="1725.1" y="295.4">←p371</text>
<rect x="1868.6" y="238" width="19" height="4.2" fill="#5050d0"/><text class="t" x="1871.2" y="241.2">←p405</text>
<rect x="1966" y="373" width="19" height="4.2" fill="#e07a20"/><text class="t" x="1968.6" y="376.2">←p411</text>
<rect x="1966" y="328" width="19" height="4.2" fill="#d03c96"/><text class="t" x="1968.6" y="331.2">←p422</text>
<rect x="1966" y="332.6" width="19" height="4.2" fill="#d03c96"/><text class="t" x="1968.6" y="335.8">←p427</text>
</g>
</svg>
